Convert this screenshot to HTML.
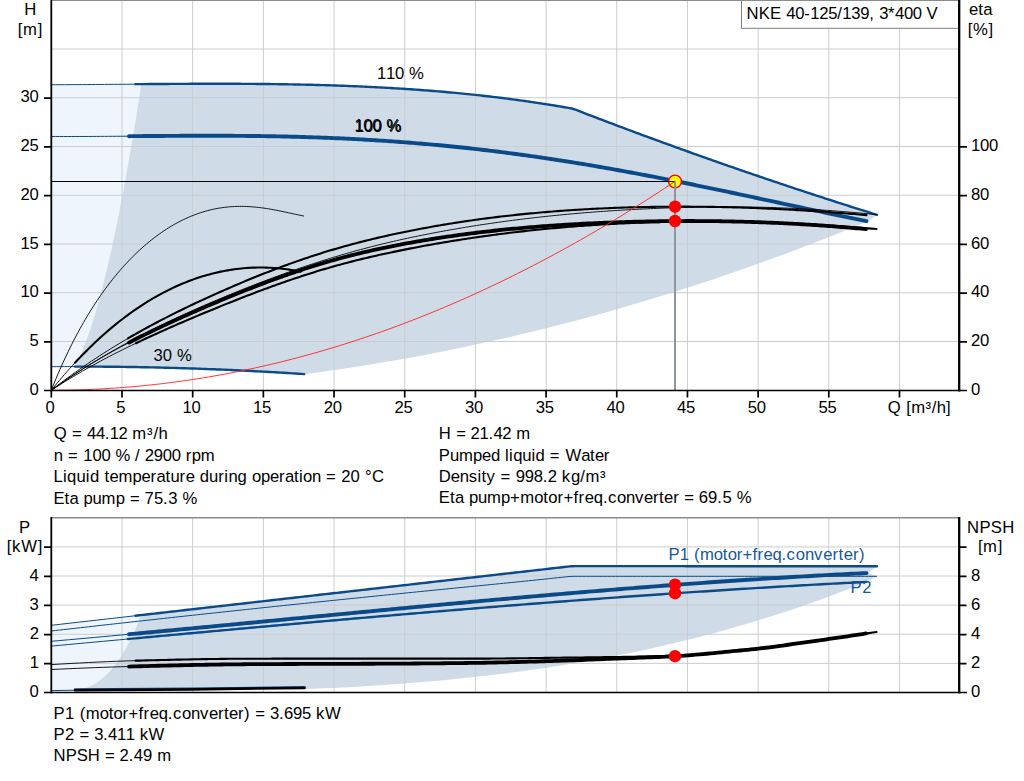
<!DOCTYPE html>
<html lang="en"><head><meta charset="utf-8"><title>NKE 40-125/139 pump curve</title>
<style>html,body{margin:0;padding:0;background:#fff}svg{display:block}text{white-space:pre;font-kerning:none;font-variant-ligatures:none}</style></head>
<body>
<svg width="1024" height="781" viewBox="0 0 1024 781">
<rect width="1024" height="781" fill="#fff"/>
<path d="M51.30 84.73 L54.40 84.72 L57.50 84.71 L60.60 84.70 L63.70 84.68 L66.80 84.67 L69.91 84.65 L73.01 84.63 L76.11 84.62 L79.21 84.60 L82.31 84.58 L85.41 84.56 L88.51 84.53 L91.61 84.51 L94.71 84.49 L97.81 84.47 L100.91 84.44 L104.02 84.42 L107.12 84.40 L110.22 84.37 L113.32 84.35 L116.42 84.32 L119.52 84.30 L122.62 84.27 L125.72 84.25 L128.82 84.22 L131.92 84.20 L135.03 84.17 L138.13 84.15 L141.23 84.12 L141.23 84.12 L140.49 88.91 L139.75 93.70 L139.01 98.49 L138.26 103.27 L137.50 108.06 L136.74 112.85 L135.97 117.64 L135.19 122.42 L134.41 127.21 L133.62 132.00 L132.82 136.79 L132.02 141.57 L131.21 146.36 L130.39 151.15 L129.56 155.94 L128.73 160.72 L127.88 165.51 L127.03 170.30 L126.17 175.09 L125.30 179.87 L124.42 184.66 L123.53 189.45 L122.63 194.24 L121.72 199.02 L120.80 203.81 L119.87 208.60 L118.92 213.39 L117.96 218.17 L116.99 222.96 L116.01 227.75 L115.01 232.54 L114.00 237.32 L112.97 242.11 L111.93 246.90 L110.87 251.69 L109.79 256.47 L108.69 261.26 L107.57 266.05 L106.44 270.84 L105.28 275.62 L104.09 280.41 L102.88 285.20 L101.65 289.99 L100.39 294.77 L99.09 299.56 L97.76 304.35 L96.40 309.14 L95.00 313.92 L93.55 318.71 L92.06 323.50 L90.51 328.29 L88.91 333.07 L87.24 337.86 L85.49 342.65 L83.66 347.44 L81.73 352.22 L79.67 357.01 L77.47 361.80 L75.08 366.58 L75.08 366.58 L72.44 366.59 L69.80 366.59 L67.15 366.60 L64.51 366.61 L61.87 366.62 L59.23 366.64 L56.58 366.65 L53.94 366.67 L51.30 366.69 Z" fill="#eef5fd"/>
<path d="M141.23 84.12 L144.92 84.10 L148.62 84.07 L152.32 84.04 L156.01 84.01 L159.71 83.99 L163.41 83.96 L167.11 83.94 L170.80 83.92 L174.50 83.90 L178.20 83.88 L181.89 83.86 L185.59 83.84 L189.29 83.82 L192.98 83.81 L196.68 83.80 L200.38 83.79 L204.07 83.78 L207.77 83.77 L211.47 83.77 L215.16 83.77 L218.86 83.77 L222.56 83.77 L226.25 83.78 L229.95 83.78 L233.65 83.79 L237.35 83.81 L241.04 83.82 L244.74 83.84 L248.44 83.87 L252.13 83.89 L255.83 83.92 L259.53 83.95 L263.22 83.99 L266.92 84.03 L270.62 84.07 L274.31 84.12 L278.01 84.17 L281.71 84.22 L285.40 84.28 L289.10 84.34 L292.80 84.41 L296.49 84.48 L300.19 84.55 L303.89 84.63 L307.59 84.72 L311.28 84.81 L314.98 84.90 L318.68 85.00 L322.37 85.10 L326.07 85.21 L329.77 85.32 L333.46 85.44 L337.16 85.57 L340.86 85.70 L344.55 85.83 L348.25 85.97 L351.95 86.12 L355.64 86.27 L359.34 86.43 L363.04 86.59 L366.73 86.76 L370.43 86.94 L374.13 87.12 L377.83 87.31 L381.52 87.51 L385.22 87.71 L388.92 87.92 L392.61 88.13 L396.31 88.35 L400.01 88.58 L403.70 88.82 L407.40 89.06 L411.10 89.31 L414.79 89.57 L418.49 89.83 L422.19 90.11 L425.88 90.39 L429.58 90.67 L433.28 90.97 L436.98 91.27 L440.67 91.58 L444.37 91.90 L448.07 92.23 L451.76 92.56 L455.46 92.91 L459.16 93.26 L462.85 93.62 L466.55 93.99 L470.25 94.37 L473.94 94.75 L477.64 95.15 L481.34 95.55 L485.03 95.97 L488.73 96.39 L492.43 96.82 L496.12 97.26 L499.82 97.71 L503.52 98.17 L507.22 98.64 L510.91 99.12 L514.61 99.61 L518.31 100.11 L522.00 100.62 L525.70 101.14 L529.40 101.67 L533.09 102.21 L536.79 102.76 L540.49 103.32 L544.18 103.89 L547.88 104.47 L551.58 105.06 L555.27 105.66 L558.97 106.28 L562.67 106.90 L566.36 107.54 L570.06 108.19 L573.76 109.04 L577.46 110.47 L581.15 111.89 L584.85 113.31 L588.55 114.73 L592.24 116.15 L595.94 117.56 L599.64 118.96 L603.33 120.37 L607.03 121.77 L610.73 123.16 L614.42 124.56 L618.12 125.95 L621.82 127.33 L625.51 128.72 L629.21 130.10 L632.91 131.47 L636.60 132.85 L640.30 134.22 L644.00 135.58 L647.70 136.94 L651.39 138.30 L655.09 139.66 L658.79 141.01 L662.48 142.36 L666.18 143.71 L669.88 145.05 L673.57 146.39 L677.27 147.73 L680.97 149.06 L684.66 150.39 L688.36 151.71 L692.06 153.04 L695.75 154.35 L699.45 155.67 L703.15 156.98 L706.84 158.29 L710.54 159.60 L714.24 160.90 L717.94 162.20 L721.63 163.49 L725.33 164.78 L729.03 166.07 L732.72 167.36 L736.42 168.64 L740.12 169.92 L743.81 171.19 L747.51 172.46 L751.21 173.73 L754.90 175.00 L758.60 176.26 L762.30 177.52 L765.99 178.77 L769.69 180.02 L773.39 181.27 L777.09 182.51 L780.78 183.76 L784.48 184.99 L788.18 186.23 L791.87 187.46 L795.57 188.69 L799.27 189.91 L802.96 191.13 L806.66 192.35 L810.36 193.56 L814.05 194.77 L817.75 195.98 L821.45 197.18 L825.14 198.38 L828.84 199.58 L832.54 200.77 L836.23 201.97 L839.93 203.15 L843.63 204.34 L847.33 205.52 L851.02 206.69 L854.72 207.87 L858.42 209.04 L862.11 210.20 L865.81 211.37 L869.51 212.53 L873.20 213.68 L876.90 214.84 L876.90 214.84 L867.30 221.60 L847.90 229.53 L828.49 237.26 L809.09 244.80 L789.69 252.16 L770.28 259.32 L750.88 266.29 L731.48 273.07 L712.07 279.66 L692.67 286.06 L673.27 292.27 L653.86 298.29 L634.46 304.12 L615.06 309.75 L595.65 315.20 L576.25 320.45 L556.84 325.52 L537.44 330.39 L518.04 335.08 L498.63 339.57 L479.23 343.87 L459.83 347.98 L440.42 351.90 L421.02 355.63 L401.62 359.17 L382.21 362.52 L362.81 365.67 L343.41 368.64 L324.00 371.42 L304.70 374.14 L304.70 374.14 L300.81 373.88 L296.92 373.63 L293.02 373.38 L289.13 373.14 L285.24 372.90 L281.35 372.66 L277.46 372.43 L273.57 372.21 L269.67 371.98 L265.78 371.77 L261.89 371.55 L258.00 371.35 L254.11 371.14 L250.21 370.94 L246.32 370.75 L242.43 370.56 L238.54 370.37 L234.65 370.19 L230.76 370.01 L226.86 369.84 L222.97 369.67 L219.08 369.51 L215.19 369.35 L211.30 369.19 L207.40 369.04 L203.51 368.90 L199.62 368.75 L195.73 368.62 L191.84 368.49 L187.95 368.36 L184.05 368.23 L180.16 368.11 L176.27 368.00 L172.38 367.89 L168.49 367.78 L164.59 367.68 L160.70 367.59 L156.81 367.49 L152.92 367.41 L149.03 367.32 L145.14 367.24 L141.24 367.17 L137.35 367.10 L133.46 367.03 L129.57 366.97 L125.68 366.92 L121.78 366.86 L117.89 366.82 L114.00 366.77 L110.11 366.73 L106.22 366.70 L102.32 366.67 L98.43 366.64 L94.54 366.62 L90.65 366.61 L86.76 366.59 L82.87 366.59 L78.97 366.58 L75.08 366.58 L75.08 366.58 L77.47 361.80 L79.67 357.01 L81.73 352.22 L83.66 347.44 L85.49 342.65 L87.24 337.86 L88.91 333.07 L90.51 328.29 L92.06 323.50 L93.55 318.71 L95.00 313.92 L96.40 309.14 L97.76 304.35 L99.09 299.56 L100.39 294.77 L101.65 289.99 L102.88 285.20 L104.09 280.41 L105.28 275.62 L106.44 270.84 L107.57 266.05 L108.69 261.26 L109.79 256.47 L110.87 251.69 L111.93 246.90 L112.97 242.11 L114.00 237.32 L115.01 232.54 L116.01 227.75 L116.99 222.96 L117.96 218.17 L118.92 213.39 L119.87 208.60 L120.80 203.81 L121.72 199.02 L122.63 194.24 L123.53 189.45 L124.42 184.66 L125.30 179.87 L126.17 175.09 L127.03 170.30 L127.88 165.51 L128.73 160.72 L129.56 155.94 L130.39 151.15 L131.21 146.36 L132.02 141.57 L132.82 136.79 L133.62 132.00 L134.41 127.21 L135.19 122.42 L135.97 117.64 L136.74 112.85 L137.50 108.06 L138.26 103.27 L139.01 98.49 L139.75 93.70 L140.49 88.91 L141.23 84.12 Z" fill="#cfdce8"/>
<path d="M122.00 0V390M192.68 0V390M263.36 0V390M334.04 0V390M404.72 0V390M475.40 0V390M546.08 0V390M616.76 0V390M687.44 0V390M758.12 0V390M828.80 0V390M899.48 0V390M51 341.50H958M51 292.75H958M51 244.00H958M51 195.25H958M51 146.50H958M51 97.75H958M51 49.00H958" stroke="#c9cdd1" stroke-width="1" fill="none"/>
<path d="M51 0.4H958" stroke="#8c8c8c" stroke-width="1.2"/>
<path d="M51.30 84.73 L55.73 84.72 L60.16 84.70 L64.59 84.68 L69.03 84.66 L73.46 84.63 L77.89 84.60 L82.32 84.58 L86.75 84.55 L91.18 84.52 L95.62 84.48 L100.05 84.45 L104.48 84.42 L108.91 84.38 L113.34 84.35 L117.77 84.31 L122.21 84.28 L126.64 84.24 L131.07 84.20 L135.50 84.17" fill="none" stroke="#0b4a88" stroke-width="1" stroke-linecap="butt" stroke-linejoin="round" />
<path d="M135.50 84.17 L137.98 84.15 L140.46 84.13 L142.94 84.11 L145.42 84.09 L147.90 84.07 L150.38 84.05 L152.86 84.04 L155.34 84.02 L157.82 84.00 L160.30 83.98 L162.78 83.97 L165.26 83.95 L167.73 83.94 L170.21 83.92 L172.69 83.91 L175.17 83.89 L177.65 83.88 L180.13 83.87 L182.61 83.85 L185.09 83.84 L187.57 83.83 L190.05 83.82 L192.53 83.81 L195.01 83.80 L197.49 83.80 L199.97 83.79 L202.45 83.78 L204.93 83.78 L207.41 83.77 L209.89 83.77 L212.37 83.77 L214.85 83.77 L217.33 83.77 L219.81 83.77 L222.29 83.77 L224.77 83.77 L227.25 83.78 L229.72 83.78 L232.20 83.79 L234.68 83.80 L237.16 83.81 L239.64 83.82 L242.12 83.83 L244.60 83.84 L247.08 83.86 L249.56 83.87 L252.04 83.89 L254.52 83.91 L257.00 83.93 L259.48 83.95 L261.96 83.97 L264.44 84.00 L266.92 84.03 L269.40 84.05 L271.88 84.08 L274.36 84.12 L276.84 84.15 L279.32 84.18 L281.80 84.22 L284.28 84.26 L286.76 84.30 L289.24 84.34 L291.71 84.39 L294.19 84.43 L296.67 84.48 L299.15 84.53 L301.63 84.58 L304.11 84.64 L306.59 84.69 L309.07 84.75 L311.55 84.81 L314.03 84.88 L316.51 84.94 L318.99 85.01 L321.47 85.08 L323.95 85.15 L326.43 85.22 L328.91 85.30 L331.39 85.38 L333.87 85.46 L336.35 85.54 L338.83 85.63 L341.31 85.71 L343.79 85.80 L346.27 85.90 L348.75 85.99 L351.23 86.09 L353.70 86.19 L356.18 86.29 L358.66 86.40 L361.14 86.51 L363.62 86.62 L366.10 86.73 L368.58 86.85 L371.06 86.97 L373.54 87.09 L376.02 87.22 L378.50 87.35 L380.98 87.48 L383.46 87.61 L385.94 87.75 L388.42 87.89 L390.90 88.03 L393.38 88.18 L395.86 88.33 L398.34 88.48 L400.82 88.63 L403.30 88.79 L405.78 88.95 L408.26 89.12 L410.74 89.29 L413.22 89.46 L415.69 89.63 L418.17 89.81 L420.65 89.99 L423.13 90.18 L425.61 90.36 L428.09 90.56 L430.57 90.75 L433.05 90.95 L435.53 91.15 L438.01 91.36 L440.49 91.57 L442.97 91.78 L445.45 92.00 L447.93 92.22 L450.41 92.44 L452.89 92.67 L455.37 92.90 L457.85 93.13 L460.33 93.37 L462.81 93.61 L465.29 93.86 L467.77 94.11 L470.25 94.37 L472.73 94.62 L475.21 94.89 L477.68 95.15 L480.16 95.42 L482.64 95.70 L485.12 95.98 L487.60 96.26 L490.08 96.54 L492.56 96.84 L495.04 97.13 L497.52 97.43 L500.00 97.73 L502.48 98.04 L504.96 98.35 L507.44 98.67 L509.92 98.99 L512.40 99.32 L514.88 99.65 L517.36 99.98 L519.84 100.32 L522.32 100.66 L524.80 101.01 L527.28 101.36 L529.76 101.72 L532.24 102.08 L534.72 102.45 L537.19 102.82 L539.67 103.19 L542.15 103.57 L544.63 103.96 L547.11 104.35 L549.59 104.74 L552.07 105.14 L554.55 105.54 L557.03 105.95 L559.51 106.37 L561.99 106.79 L564.47 107.21 L566.95 107.64 L569.43 108.07 L571.91 108.51 L574.39 109.29 L576.87 110.24 L579.35 111.20 L581.83 112.15 L584.31 113.11 L586.79 114.06 L589.27 115.01 L591.75 115.96 L594.23 116.90 L596.71 117.85 L599.18 118.79 L601.66 119.73 L604.14 120.67 L606.62 121.61 L609.10 122.55 L611.58 123.49 L614.06 124.42 L616.54 125.35 L619.02 126.28 L621.50 127.21 L623.98 128.14 L626.46 129.07 L628.94 130.00 L631.42 130.92 L633.90 131.84 L636.38 132.76 L638.86 133.68 L641.34 134.60 L643.82 135.51 L646.30 136.43 L648.78 137.34 L651.26 138.25 L653.74 139.16 L656.22 140.07 L658.70 140.98 L661.17 141.89 L663.65 142.79 L666.13 143.69 L668.61 144.59 L671.09 145.49 L673.57 146.39 L676.05 147.29 L678.53 148.18 L681.01 149.07 L683.49 149.97 L685.97 150.86 L688.45 151.75 L690.93 152.63 L693.41 153.52 L695.89 154.40 L698.37 155.28 L700.85 156.17 L703.33 157.05 L705.81 157.92 L708.29 158.80 L710.77 159.68 L713.25 160.55 L715.73 161.42 L718.21 162.29 L720.69 163.16 L723.16 164.03 L725.64 164.89 L728.12 165.76 L730.60 166.62 L733.08 167.48 L735.56 168.34 L738.04 169.20 L740.52 170.06 L743.00 170.91 L745.48 171.77 L747.96 172.62 L750.44 173.47 L752.92 174.32 L755.40 175.17 L757.88 176.01 L760.36 176.86 L762.84 177.70 L765.32 178.54 L767.80 179.38 L770.28 180.22 L772.76 181.06 L775.24 181.89 L777.72 182.73 L780.20 183.56 L782.68 184.39 L785.15 185.22 L787.63 186.05 L790.11 186.87 L792.59 187.70 L795.07 188.52 L797.55 189.34 L800.03 190.16 L802.51 190.98 L804.99 191.80 L807.47 192.61 L809.95 193.43 L812.43 194.24 L814.91 195.05 L817.39 195.86 L819.87 196.67 L822.35 197.48 L824.83 198.28 L827.31 199.09 L829.79 199.89 L832.27 200.69 L834.75 201.49 L837.23 202.28 L839.71 203.08 L842.19 203.87 L844.67 204.67 L847.14 205.46 L849.62 206.25 L852.10 207.04 L854.58 207.82 L857.06 208.61 L859.54 209.39 L862.02 210.17 L864.50 210.95 L866.98 211.73 L869.46 212.51 L871.94 213.29 L874.42 214.06 L876.90 214.84" fill="none" stroke="#0b4a88" stroke-width="2.4" stroke-linecap="round" stroke-linejoin="round" />
<path d="M51.30 136.46 L55.39 136.48 L59.48 136.49 L63.57 136.49 L67.66 136.50 L71.75 136.50 L75.84 136.49 L79.93 136.48 L84.02 136.47 L88.11 136.46 L92.19 136.44 L96.28 136.42 L100.37 136.39 L104.46 136.37 L108.55 136.34 L112.64 136.31 L116.73 136.29 L120.82 136.25 L124.91 136.22 L129.00 136.19" fill="none" stroke="#0b4a88" stroke-width="1" stroke-linecap="butt" stroke-linejoin="round" />
<path d="M129.00 136.19 L131.47 136.17 L133.93 136.15 L136.40 136.13 L138.87 136.11 L141.33 136.09 L143.80 136.07 L146.27 136.05 L148.73 136.03 L151.20 136.02 L153.67 136.00 L156.13 135.98 L158.60 135.96 L161.07 135.94 L163.53 135.93 L166.00 135.91 L168.46 135.89 L170.93 135.88 L173.40 135.86 L175.86 135.85 L178.33 135.84 L180.80 135.82 L183.26 135.81 L185.73 135.80 L188.20 135.79 L190.66 135.78 L193.13 135.78 L195.60 135.77 L198.06 135.76 L200.53 135.76 L203.00 135.75 L205.46 135.75 L207.93 135.75 L210.40 135.75 L212.86 135.75 L215.33 135.75 L217.80 135.76 L220.26 135.76 L222.73 135.77 L225.20 135.78 L227.66 135.79 L230.13 135.80 L232.60 135.81 L235.06 135.83 L237.53 135.84 L239.99 135.86 L242.46 135.88 L244.93 135.90 L247.39 135.93 L249.86 135.95 L252.33 135.98 L254.79 136.01 L257.26 136.04 L259.73 136.07 L262.19 136.11 L264.66 136.14 L267.13 136.18 L269.59 136.22 L272.06 136.27 L274.53 136.31 L276.99 136.36 L279.46 136.41 L281.93 136.46 L284.39 136.51 L286.86 136.57 L289.33 136.63 L291.79 136.69 L294.26 136.75 L296.73 136.81 L299.19 136.88 L301.66 136.95 L304.13 137.02 L306.59 137.10 L309.06 137.18 L311.53 137.26 L313.99 137.34 L316.46 137.42 L318.92 137.51 L321.39 137.60 L323.86 137.69 L326.32 137.79 L328.79 137.89 L331.26 137.99 L333.72 138.09 L336.19 138.20 L338.66 138.31 L341.12 138.42 L343.59 138.53 L346.06 138.65 L348.52 138.77 L350.99 138.89 L353.46 139.02 L355.92 139.15 L358.39 139.28 L360.86 139.41 L363.32 139.55 L365.79 139.69 L368.26 139.83 L370.72 139.98 L373.19 140.12 L375.66 140.28 L378.12 140.43 L380.59 140.59 L383.06 140.75 L385.52 140.91 L387.99 141.08 L390.45 141.25 L392.92 141.42 L395.39 141.60 L397.85 141.78 L400.32 141.96 L402.79 142.14 L405.25 142.33 L407.72 142.52 L410.19 142.71 L412.65 142.91 L415.12 143.11 L417.59 143.32 L420.05 143.52 L422.52 143.73 L424.99 143.94 L427.45 144.16 L429.92 144.38 L432.39 144.60 L434.85 144.83 L437.32 145.06 L439.79 145.29 L442.25 145.52 L444.72 145.76 L447.19 146.00 L449.65 146.25 L452.12 146.49 L454.59 146.74 L457.05 147.00 L459.52 147.25 L461.98 147.51 L464.45 147.78 L466.92 148.04 L469.38 148.31 L471.85 148.59 L474.32 148.86 L476.78 149.14 L479.25 149.42 L481.72 149.71 L484.18 150.00 L486.65 150.29 L489.12 150.59 L491.58 150.88 L494.05 151.18 L496.52 151.49 L498.98 151.80 L501.45 152.11 L503.92 152.42 L506.38 152.74 L508.85 153.06 L511.32 153.38 L513.78 153.71 L516.25 154.04 L518.72 154.37 L521.18 154.70 L523.65 155.04 L526.12 155.38 L528.58 155.73 L531.05 156.07 L533.52 156.42 L535.98 156.78 L538.45 157.13 L540.91 157.49 L543.38 157.86 L545.85 158.22 L548.31 158.59 L550.78 158.96 L553.25 159.33 L555.71 159.71 L558.18 160.09 L560.65 160.47 L563.11 160.86 L565.58 161.24 L568.05 161.64 L570.51 162.03 L572.98 162.43 L575.45 162.83 L577.91 163.23 L580.38 163.63 L582.85 164.04 L585.31 164.45 L587.78 164.86 L590.25 165.28 L592.71 165.70 L595.18 166.12 L597.65 166.54 L600.11 166.96 L602.58 167.39 L605.05 167.82 L607.51 168.26 L609.98 168.69 L612.44 169.13 L614.91 169.57 L617.38 170.01 L619.84 170.46 L622.31 170.91 L624.78 171.36 L627.24 171.81 L629.71 172.26 L632.18 172.72 L634.64 173.18 L637.11 173.64 L639.58 174.10 L642.04 174.57 L644.51 175.04 L646.98 175.51 L649.44 175.98 L651.91 176.45 L654.38 176.93 L656.84 177.41 L659.31 177.88 L661.78 178.37 L664.24 178.85 L666.71 179.33 L669.18 179.82 L671.64 180.31 L674.11 180.80 L676.58 181.29 L679.04 181.79 L681.51 182.28 L683.97 182.78 L686.44 183.28 L688.91 183.78 L691.37 184.28 L693.84 184.78 L696.31 185.29 L698.77 185.79 L701.24 186.30 L703.71 186.81 L706.17 187.32 L708.64 187.83 L711.11 188.35 L713.57 188.86 L716.04 189.37 L718.51 189.89 L720.97 190.41 L723.44 190.92 L725.91 191.44 L728.37 191.96 L730.84 192.48 L733.31 193.01 L735.77 193.53 L738.24 194.05 L740.71 194.57 L743.17 195.10 L745.64 195.62 L748.11 196.15 L750.57 196.68 L753.04 197.20 L755.51 197.73 L757.97 198.26 L760.44 198.79 L762.90 199.31 L765.37 199.84 L767.84 200.37 L770.30 200.90 L772.77 201.43 L775.24 201.96 L777.70 202.49 L780.17 203.02 L782.64 203.55 L785.10 204.08 L787.57 204.61 L790.04 205.13 L792.50 205.66 L794.97 206.19 L797.44 206.72 L799.90 207.25 L802.37 207.77 L804.84 208.30 L807.30 208.83 L809.77 209.35 L812.24 209.87 L814.70 210.40 L817.17 210.92 L819.64 211.44 L822.10 211.96 L824.57 212.49 L827.04 213.00 L829.50 213.52 L831.97 214.04 L834.43 214.56 L836.90 215.07 L839.37 215.58 L841.83 216.10 L844.30 216.61 L846.77 217.12 L849.23 217.62 L851.70 218.13 L854.17 218.63 L856.63 219.14 L859.10 219.64 L861.57 220.14 L864.03 220.63 L866.50 221.13" fill="none" stroke="#0b4a88" stroke-width="3.9" stroke-linecap="round" stroke-linejoin="round" />
<path d="M51.30 366.69 L53.93 366.67 L56.57 366.65 L59.20 366.64 L61.83 366.62 L64.47 366.61 L67.10 366.60 L69.73 366.59 L72.37 366.59 L75.00 366.58" fill="none" stroke="#0b4a88" stroke-width="1" stroke-linecap="butt" stroke-linejoin="round" />
<path d="M75.00 366.58 L77.90 366.58 L80.80 366.58 L83.70 366.59 L86.61 366.59 L89.51 366.60 L92.41 366.61 L95.31 366.63 L98.21 366.64 L101.11 366.66 L104.01 366.68 L106.91 366.70 L109.82 366.73 L112.72 366.76 L115.62 366.79 L118.52 366.82 L121.42 366.86 L124.32 366.90 L127.22 366.94 L130.12 366.98 L133.03 367.03 L135.93 367.07 L138.83 367.12 L141.73 367.18 L144.63 367.23 L147.53 367.29 L150.43 367.35 L153.33 367.41 L156.24 367.48 L159.14 367.55 L162.04 367.62 L164.94 367.69 L167.84 367.77 L170.74 367.84 L173.64 367.92 L176.54 368.01 L179.45 368.09 L182.35 368.18 L185.25 368.27 L188.15 368.36 L191.05 368.46 L193.95 368.56 L196.85 368.66 L199.75 368.76 L202.66 368.86 L205.56 368.97 L208.46 369.08 L211.36 369.20 L214.26 369.31 L217.16 369.43 L220.06 369.55 L222.96 369.67 L225.87 369.80 L228.77 369.92 L231.67 370.05 L234.57 370.19 L237.47 370.32 L240.37 370.46 L243.27 370.60 L246.17 370.74 L249.08 370.88 L251.98 371.03 L254.88 371.18 L257.78 371.33 L260.68 371.49 L263.58 371.65 L266.48 371.81 L269.38 371.97 L272.29 372.13 L275.19 372.30 L278.09 372.47 L280.99 372.64 L283.89 372.82 L286.79 372.99 L289.69 373.17 L292.59 373.35 L295.50 373.54 L298.40 373.73 L301.30 373.92 L304.20 374.11" fill="none" stroke="#0b4a88" stroke-width="2.4" stroke-linecap="round" stroke-linejoin="round" />
<path d="M51.30 390.27 L53.00 386.03 L54.69 381.88 L56.39 377.80 L58.08 373.81 L59.78 369.90 L61.48 366.06 L63.17 362.30 L64.87 358.62 L66.56 355.00 L68.26 351.46 L69.96 347.98 L71.65 344.57 L73.35 341.23 L75.04 337.95 L76.74 334.74 L78.44 331.58 L80.13 328.49 L81.83 325.46 L83.52 322.48 L85.22 319.56 L86.92 316.70 L88.61 313.89 L90.31 311.13 L92.00 308.42 L93.70 305.77 L95.40 303.16 L97.09 300.61 L98.79 298.10 L100.48 295.64 L102.18 293.22 L103.88 290.85 L105.57 288.53 L107.27 286.24 L108.96 284.00 L110.66 281.80 L112.36 279.65 L114.05 277.53 L115.75 275.45 L117.44 273.41 L119.14 271.41 L120.83 269.45 L122.53 267.53 L124.23 265.64 L125.92 263.79 L127.62 261.97 L129.31 260.19 L131.01 258.44 L132.71 256.73 L134.40 255.05 L136.10 253.41 L137.79 251.79 L139.49 250.21 L141.19 248.66 L142.88 247.15 L144.58 245.66 L146.27 244.21 L147.97 242.78 L149.67 241.39 L151.36 240.03 L153.06 238.69 L154.75 237.39 L156.45 236.11 L158.15 234.87 L159.84 233.65 L161.54 232.47 L163.23 231.31 L164.93 230.18 L166.63 229.07 L168.32 228.00 L170.02 226.95 L171.71 225.93 L173.41 224.94 L175.11 223.98 L176.80 223.04 L178.50 222.13 L180.19 221.25 L181.89 220.39 L183.59 219.56 L185.28 218.76 L186.98 217.99 L188.67 217.24 L190.37 216.51 L192.07 215.82 L193.76 215.15 L195.46 214.50 L197.15 213.88 L198.85 213.29 L200.55 212.72 L202.24 212.18 L203.94 211.66 L205.63 211.17 L207.33 210.70 L209.03 210.26 L210.72 209.84 L212.42 209.45 L214.11 209.08 L215.81 208.74 L217.51 208.42 L219.20 208.13 L220.90 207.86 L222.59 207.61 L224.29 207.38 L225.99 207.18 L227.68 207.01 L229.38 206.85 L231.07 206.72 L232.77 206.61 L234.47 206.52 L236.16 206.45 L237.86 206.41 L239.55 206.39 L241.25 206.38 L242.94 206.40 L244.64 206.44 L246.34 206.50 L248.03 206.57 L249.73 206.67 L251.42 206.78 L253.12 206.91 L254.82 207.06 L256.51 207.23 L258.21 207.41 L259.90 207.61 L261.60 207.83 L263.30 208.06 L264.99 208.30 L266.69 208.56 L268.38 208.83 L270.08 209.11 L271.78 209.41 L273.47 209.71 L275.17 210.03 L276.86 210.35 L278.56 210.69 L280.26 211.03 L281.95 211.38 L283.65 211.73 L285.34 212.09 L287.04 212.45 L288.74 212.82 L290.43 213.19 L292.13 213.56 L293.82 213.93 L295.52 214.29 L297.22 214.66 L298.91 215.02 L300.61 215.38 L302.30 215.73 L304.00 216.08" fill="none" stroke="#000" stroke-width="0.9" stroke-linecap="butt" stroke-linejoin="round" />
<path d="M51.30 390.30 L53.93 387.04 L56.57 383.82 L59.20 380.66 L61.83 377.55 L64.47 374.49 L67.10 371.48 L69.73 368.52 L72.37 365.61 L75.00 362.74" fill="none" stroke="#000" stroke-width="0.9" stroke-linecap="butt" stroke-linejoin="round" />
<path d="M75.00 362.74 L77.28 360.30 L79.56 357.90 L81.83 355.53 L84.11 353.20 L86.39 350.90 L88.67 348.63 L90.94 346.41 L93.22 344.21 L95.50 342.05 L97.78 339.93 L100.06 337.84 L102.33 335.78 L104.61 333.75 L106.89 331.76 L109.17 329.81 L111.44 327.88 L113.72 325.99 L116.00 324.13 L118.28 322.30 L120.56 320.51 L122.83 318.75 L125.11 317.02 L127.39 315.32 L129.67 313.66 L131.94 312.02 L134.22 310.42 L136.50 308.85 L138.78 307.31 L141.06 305.80 L143.33 304.32 L145.61 302.88 L147.89 301.46 L150.17 300.07 L152.44 298.72 L154.72 297.39 L157.00 296.10 L159.28 294.83 L161.56 293.60 L163.83 292.39 L166.11 291.22 L168.39 290.07 L170.67 288.95 L172.94 287.87 L175.22 286.81 L177.50 285.78 L179.78 284.78 L182.06 283.81 L184.33 282.87 L186.61 281.95 L188.89 281.07 L191.17 280.21 L193.44 279.38 L195.72 278.59 L198.00 277.82 L200.28 277.07 L202.56 276.36 L204.83 275.67 L207.11 275.02 L209.39 274.39 L211.67 273.78 L213.94 273.21 L216.22 272.66 L218.50 272.14 L220.78 271.65 L223.06 271.19 L225.33 270.76 L227.61 270.35 L229.89 269.97 L232.17 269.61 L234.44 269.29 L236.72 268.99 L239.00 268.72 L241.28 268.48 L243.56 268.26 L245.83 268.07 L248.11 267.91 L250.39 267.78 L252.67 267.67 L254.94 267.59 L257.22 267.54 L259.50 267.51 L261.78 267.52 L264.06 267.54 L266.33 267.60 L268.61 267.68 L270.89 267.79 L273.17 267.93 L275.44 268.10 L277.72 268.29 L280.00 268.51 L282.28 268.75 L284.56 269.03 L286.83 269.33 L289.11 269.66 L291.39 270.01 L293.67 270.40 L295.94 270.81 L298.22 271.24 L300.50 271.71" fill="none" stroke="#000" stroke-width="2.1" stroke-linecap="round" stroke-linejoin="round" />
<path d="M51.30 390.30 L54.06 388.33 L56.82 386.38 L59.58 384.45 L62.35 382.55 L65.11 380.66 L67.87 378.79 L70.63 376.94 L73.39 375.10 L76.15 373.29 L78.92 371.49 L81.68 369.72 L84.44 367.95 L87.20 366.21 L89.96 364.49 L92.72 362.78 L95.48 361.09 L98.25 359.41 L101.01 357.75 L103.77 356.11 L106.53 354.48 L109.29 352.87 L112.05 351.28 L114.82 349.70 L117.58 348.13 L120.34 346.58 L123.10 345.05 L125.86 343.52 L128.62 342.02 L131.38 340.52 L134.15 339.05 L136.91 337.58 L139.67 336.13 L142.43 334.69 L145.19 333.26 L147.95 331.85 L150.72 330.45 L153.48 329.06 L156.24 327.68 L159.00 326.32 L161.76 324.97 L164.52 323.62 L167.28 322.29 L170.05 320.97 L172.81 319.66 L175.57 318.37 L178.33 317.08 L181.09 315.80 L183.85 314.53 L186.62 313.27 L189.38 312.02 L192.14 310.78 L194.90 309.55 L197.66 308.33 L200.42 307.11 L203.18 305.91 L205.95 304.71 L208.71 303.52 L211.47 302.34 L214.23 301.16 L216.99 300.00 L219.75 298.84 L222.52 297.68 L225.28 296.54 L228.04 295.40 L230.80 294.26 L233.56 293.13 L236.32 292.01 L239.08 290.90 L241.85 289.79 L244.61 288.69 L247.37 287.60 L250.13 286.51 L252.89 285.43 L255.65 284.35 L258.42 283.29 L261.18 282.23 L263.94 281.18 L266.70 280.13 L269.46 279.10 L272.22 278.07 L274.98 277.05 L277.75 276.03 L280.51 275.03 L283.27 274.03 L286.03 273.04 L288.79 272.05 L291.55 271.08 L294.32 270.11 L297.08 269.16 L299.84 268.21 L302.60 267.26 L305.36 266.33 L308.12 265.41 L310.88 264.49 L313.65 263.58 L316.41 262.68 L319.17 261.79 L321.93 260.91 L324.69 260.04 L327.45 259.18 L330.22 258.32 L332.98 257.48 L335.74 256.64 L338.50 255.82 L341.26 255.00 L344.02 254.19 L346.78 253.39 L349.55 252.60 L352.31 251.82 L355.07 251.06 L357.83 250.30 L360.59 249.55 L363.35 248.81 L366.12 248.08 L368.88 247.36 L371.64 246.65 L374.40 245.95 L377.16 245.25 L379.92 244.57 L382.68 243.90 L385.45 243.24 L388.21 242.58 L390.97 241.93 L393.73 241.30 L396.49 240.67 L399.25 240.04 L402.02 239.43 L404.78 238.83 L407.54 238.23 L410.30 237.64 L413.06 237.06 L415.82 236.48 L418.58 235.91 L421.35 235.35 L424.11 234.80 L426.87 234.26 L429.63 233.72 L432.39 233.18 L435.15 232.66 L437.92 232.14 L440.68 231.63 L443.44 231.12 L446.20 230.62 L448.96 230.12 L451.72 229.63 L454.48 229.15 L457.25 228.68 L460.01 228.21 L462.77 227.74 L465.53 227.28 L468.29 226.83 L471.05 226.38 L473.82 225.94 L476.58 225.51 L479.34 225.08 L482.10 224.66 L484.86 224.24 L487.62 223.83 L490.38 223.42 L493.15 223.02 L495.91 222.63 L498.67 222.24 L501.43 221.85 L504.19 221.48 L506.95 221.10 L509.72 220.74 L512.48 220.38 L515.24 220.02 L518.00 219.67 L520.76 219.32 L523.52 218.99 L526.28 218.65 L529.05 218.32 L531.81 218.00 L534.57 217.68 L537.33 217.37 L540.09 217.06 L542.85 216.75 L545.62 216.46 L548.38 216.16 L551.14 215.88 L553.90 215.59 L556.66 215.32 L559.42 215.04 L562.18 214.78 L564.95 214.51 L567.71 214.26 L570.47 214.00 L573.23 213.75 L575.99 213.51 L578.75 213.27 L581.52 213.04 L584.28 212.81 L587.04 212.58 L589.80 212.37 L592.56 212.15 L595.32 211.94 L598.08 211.73 L600.85 211.53 L603.61 211.34 L606.37 211.14 L609.13 210.95 L611.89 210.77 L614.65 210.59 L617.42 210.42 L620.18 210.25 L622.94 210.08 L625.70 209.92 L628.46 209.76 L631.22 209.61 L633.98 209.46 L636.75 209.31 L639.51 209.17 L642.27 209.04 L645.03 208.90 L647.79 208.78 L650.55 208.65 L653.32 208.53 L656.08 208.41 L658.84 208.30 L661.60 208.19 L664.36 208.09 L667.12 207.99 L669.88 207.89 L672.65 207.80 L675.41 207.71 L678.17 207.62 L680.93 207.54 L683.69 207.46 L686.45 207.38 L689.22 207.31 L691.98 207.25 L694.74 207.18 L697.50 207.12 L700.26 207.07 L703.02 207.01 L705.78 206.97 L708.55 206.93 L711.31 206.89 L714.07 206.87 L716.83 206.84 L719.59 206.82 L722.35 206.81 L725.12 206.81 L727.88 206.81 L730.64 206.81 L733.40 206.82 L736.16 206.84 L738.92 206.86 L741.68 206.88 L744.45 206.92 L747.21 206.95 L749.97 207.00 L752.73 207.05 L755.49 207.10 L758.25 207.16 L761.02 207.22 L763.78 207.29 L766.54 207.37 L769.30 207.45 L772.06 207.54 L774.82 207.63 L777.58 207.73 L780.35 207.83 L783.11 207.94 L785.87 208.05 L788.63 208.17 L791.39 208.29 L794.15 208.42 L796.92 208.56 L799.68 208.69 L802.44 208.84 L805.20 208.99 L807.96 209.14 L810.72 209.30 L813.48 209.47 L816.25 209.64 L819.01 209.82 L821.77 210.00 L824.53 210.18 L827.29 210.37 L830.05 210.57 L832.82 210.77 L835.58 210.98 L838.34 211.19 L841.10 211.41 L843.86 211.63 L846.62 211.85 L849.38 212.09 L852.15 212.32 L854.91 212.56 L857.67 212.81 L860.43 213.06 L863.19 213.32 L865.95 213.58 L868.72 213.84 L871.48 214.12 L874.24 214.39 L877.00 214.67" fill="none" stroke="#000" stroke-width="0.9" stroke-linecap="butt" stroke-linejoin="round" />
<path d="M51.30 390.30 L55.76 387.40 L60.22 384.57 L64.67 381.78 L69.13 379.05 L73.59 376.37 L78.05 373.73 L82.51 371.14 L86.96 368.60 L91.42 366.10 L95.88 363.65 L100.34 361.23 L104.79 358.85 L109.25 356.51 L113.71 354.21 L118.17 351.94 L122.63 349.71 L127.08 347.50 L131.54 345.33 L136.00 343.19" fill="none" stroke="#000" stroke-width="0.9" stroke-linecap="butt" stroke-linejoin="round" />
<path d="M136.00 343.19 L138.48 342.01 L140.95 340.84 L143.43 339.67 L145.91 338.52 L148.38 337.37 L150.86 336.22 L153.34 335.09 L155.81 333.96 L158.29 332.84 L160.77 331.72 L163.24 330.61 L165.72 329.51 L168.20 328.41 L170.67 327.31 L173.15 326.23 L175.63 325.14 L178.10 324.06 L180.58 322.99 L183.06 321.92 L185.53 320.86 L188.01 319.80 L190.48 318.74 L192.96 317.69 L195.44 316.65 L197.91 315.61 L200.39 314.57 L202.87 313.54 L205.34 312.51 L207.82 311.48 L210.30 310.46 L212.77 309.44 L215.25 308.42 L217.73 307.41 L220.20 306.40 L222.68 305.40 L225.16 304.40 L227.63 303.40 L230.11 302.41 L232.59 301.42 L235.06 300.44 L237.54 299.46 L240.02 298.49 L242.49 297.52 L244.97 296.56 L247.45 295.60 L249.92 294.65 L252.40 293.70 L254.88 292.76 L257.35 291.82 L259.83 290.89 L262.31 289.97 L264.78 289.05 L267.26 288.14 L269.74 287.23 L272.21 286.33 L274.69 285.44 L277.17 284.55 L279.64 283.67 L282.12 282.80 L284.60 281.93 L287.07 281.07 L289.55 280.22 L292.03 279.38 L294.50 278.54 L296.98 277.71 L299.45 276.89 L301.93 276.08 L304.41 275.27 L306.88 274.47 L309.36 273.68 L311.84 272.90 L314.31 272.13 L316.79 271.36 L319.27 270.61 L321.74 269.86 L324.22 269.12 L326.70 268.39 L329.17 267.67 L331.65 266.96 L334.13 266.26 L336.60 265.57 L339.08 264.89 L341.56 264.21 L344.03 263.55 L346.51 262.89 L348.99 262.24 L351.46 261.61 L353.94 260.98 L356.42 260.35 L358.89 259.74 L361.37 259.13 L363.85 258.53 L366.32 257.94 L368.80 257.36 L371.28 256.78 L373.75 256.21 L376.23 255.65 L378.71 255.09 L381.18 254.54 L383.66 254.00 L386.14 253.46 L388.61 252.93 L391.09 252.41 L393.57 251.89 L396.04 251.37 L398.52 250.87 L400.99 250.36 L403.47 249.86 L405.95 249.37 L408.42 248.88 L410.90 248.40 L413.38 247.92 L415.85 247.44 L418.33 246.98 L420.81 246.51 L423.28 246.05 L425.76 245.59 L428.24 245.14 L430.71 244.70 L433.19 244.26 L435.67 243.82 L438.14 243.39 L440.62 242.96 L443.10 242.54 L445.57 242.12 L448.05 241.70 L450.53 241.29 L453.00 240.89 L455.48 240.49 L457.96 240.09 L460.43 239.70 L462.91 239.32 L465.39 238.93 L467.86 238.56 L470.34 238.18 L472.82 237.82 L475.29 237.45 L477.77 237.09 L480.25 236.74 L482.72 236.39 L485.20 236.04 L487.68 235.70 L490.15 235.36 L492.63 235.03 L495.11 234.70 L497.58 234.37 L500.06 234.05 L502.54 233.74 L505.01 233.43 L507.49 233.12 L509.96 232.82 L512.44 232.52 L514.92 232.22 L517.39 231.93 L519.87 231.65 L522.35 231.37 L524.82 231.09 L527.30 230.82 L529.78 230.55 L532.25 230.28 L534.73 230.02 L537.21 229.77 L539.68 229.51 L542.16 229.27 L544.64 229.02 L547.11 228.78 L549.59 228.55 L552.07 228.32 L554.54 228.09 L557.02 227.87 L559.50 227.65 L561.97 227.43 L564.45 227.22 L566.93 227.01 L569.40 226.81 L571.88 226.61 L574.36 226.42 L576.83 226.22 L579.31 226.04 L581.79 225.85 L584.26 225.68 L586.74 225.50 L589.22 225.33 L591.69 225.16 L594.17 225.00 L596.65 224.84 L599.12 224.68 L601.60 224.53 L604.08 224.38 L606.55 224.24 L609.03 224.10 L611.51 223.96 L613.98 223.83 L616.46 223.70 L618.93 223.57 L621.41 223.45 L623.89 223.34 L626.36 223.22 L628.84 223.11 L631.32 223.01 L633.79 222.90 L636.27 222.80 L638.75 222.71 L641.22 222.62 L643.70 222.53 L646.18 222.45 L648.65 222.36 L651.13 222.29 L653.61 222.21 L656.08 222.14 L658.56 222.08 L661.04 222.02 L663.51 221.96 L665.99 221.90 L668.47 221.85 L670.94 221.80 L673.42 221.76 L675.90 221.72 L678.37 221.68 L680.85 221.64 L683.33 221.61 L685.80 221.59 L688.28 221.56 L690.76 221.54 L693.23 221.52 L695.71 221.51 L698.19 221.50 L700.66 221.49 L703.14 221.49 L705.62 221.49 L708.09 221.49 L710.57 221.50 L713.05 221.51 L715.52 221.53 L718.00 221.54 L720.47 221.56 L722.95 221.59 L725.43 221.61 L727.90 221.64 L730.38 221.68 L732.86 221.71 L735.33 221.75 L737.81 221.80 L740.29 221.84 L742.76 221.89 L745.24 221.94 L747.72 222.00 L750.19 222.06 L752.67 222.12 L755.15 222.19 L757.62 222.25 L760.10 222.33 L762.58 222.40 L765.05 222.48 L767.53 222.56 L770.01 222.64 L772.48 222.73 L774.96 222.82 L777.44 222.91 L779.91 223.01 L782.39 223.11 L784.87 223.21 L787.34 223.32 L789.82 223.42 L792.30 223.53 L794.77 223.65 L797.25 223.77 L799.73 223.89 L802.20 224.01 L804.68 224.13 L807.16 224.26 L809.63 224.39 L812.11 224.53 L814.59 224.67 L817.06 224.81 L819.54 224.95 L822.02 225.10 L824.49 225.24 L826.97 225.40 L829.44 225.55 L831.92 225.71 L834.40 225.87 L836.87 226.03 L839.35 226.19 L841.83 226.36 L844.30 226.53 L846.78 226.71 L849.26 226.88 L851.73 227.06 L854.21 227.24 L856.69 227.43 L859.16 227.61 L861.64 227.80 L864.12 228.00 L866.59 228.19 L869.07 228.39 L871.55 228.59 L874.02 228.79 L876.50 229.00" fill="none" stroke="#000" stroke-width="2.1" stroke-linecap="round" stroke-linejoin="round" />
<path d="M51.30 390.30 L55.34 387.15 L59.37 384.06 L63.41 381.01 L67.45 378.02 L71.48 375.07 L75.52 372.17 L79.56 369.32 L83.59 366.51 L87.63 363.75 L91.67 361.03 L95.71 358.35 L99.74 355.71 L103.78 353.12 L107.82 350.56 L111.85 348.05 L115.89 345.57 L119.93 343.13 L123.96 340.73 L128.00 338.36" fill="none" stroke="#000" stroke-width="0.9" stroke-linecap="butt" stroke-linejoin="round" />
<path d="M128.00 338.36 L130.47 336.93 L132.94 335.51 L135.41 334.10 L137.88 332.71 L140.35 331.33 L142.82 329.95 L145.29 328.60 L147.76 327.25 L150.23 325.91 L152.70 324.59 L155.17 323.28 L157.64 321.97 L160.11 320.68 L162.58 319.40 L165.05 318.13 L167.52 316.86 L169.99 315.61 L172.46 314.37 L174.93 313.13 L177.40 311.91 L179.87 310.69 L182.34 309.49 L184.81 308.29 L187.28 307.10 L189.75 305.91 L192.22 304.74 L194.69 303.57 L197.16 302.41 L199.63 301.26 L202.10 300.11 L204.57 298.97 L207.04 297.84 L209.51 296.71 L211.98 295.59 L214.45 294.48 L216.92 293.37 L219.39 292.27 L221.86 291.17 L224.33 290.09 L226.80 289.00 L229.27 287.93 L231.74 286.86 L234.21 285.80 L236.68 284.74 L239.15 283.69 L241.62 282.65 L244.09 281.62 L246.56 280.59 L249.03 279.57 L251.49 278.56 L253.96 277.55 L256.43 276.55 L258.90 275.56 L261.37 274.58 L263.84 273.60 L266.31 272.63 L268.78 271.67 L271.25 270.72 L273.72 269.77 L276.19 268.83 L278.66 267.91 L281.13 266.98 L283.60 266.07 L286.07 265.17 L288.54 264.27 L291.01 263.38 L293.48 262.50 L295.95 261.63 L298.42 260.77 L300.89 259.91 L303.36 259.07 L305.83 258.23 L308.30 257.40 L310.77 256.58 L313.24 255.77 L315.71 254.97 L318.18 254.18 L320.65 253.39 L323.12 252.62 L325.59 251.86 L328.06 251.10 L330.53 250.35 L333.00 249.62 L335.47 248.89 L337.94 248.17 L340.41 247.47 L342.88 246.77 L345.35 246.08 L347.82 245.40 L350.29 244.73 L352.76 244.07 L355.23 243.41 L357.70 242.77 L360.17 242.13 L362.64 241.50 L365.11 240.88 L367.58 240.27 L370.05 239.66 L372.52 239.07 L374.99 238.48 L377.46 237.89 L379.93 237.32 L382.40 236.75 L384.87 236.19 L387.34 235.64 L389.81 235.09 L392.28 234.56 L394.75 234.02 L397.22 233.50 L399.69 232.98 L402.16 232.46 L404.63 231.96 L407.10 231.45 L409.57 230.96 L412.04 230.47 L414.51 229.99 L416.98 229.51 L419.45 229.04 L421.92 228.57 L424.39 228.11 L426.86 227.66 L429.33 227.21 L431.80 226.76 L434.27 226.33 L436.74 225.89 L439.21 225.47 L441.68 225.05 L444.15 224.63 L446.62 224.22 L449.09 223.82 L451.56 223.42 L454.03 223.03 L456.50 222.64 L458.97 222.26 L461.44 221.88 L463.91 221.51 L466.38 221.15 L468.85 220.79 L471.32 220.43 L473.79 220.08 L476.26 219.74 L478.73 219.40 L481.20 219.06 L483.67 218.73 L486.14 218.41 L488.61 218.09 L491.08 217.78 L493.55 217.47 L496.02 217.16 L498.48 216.86 L500.95 216.57 L503.42 216.28 L505.89 216.00 L508.36 215.72 L510.83 215.44 L513.30 215.17 L515.77 214.91 L518.24 214.65 L520.71 214.39 L523.18 214.14 L525.65 213.89 L528.12 213.65 L530.59 213.42 L533.06 213.18 L535.53 212.96 L538.00 212.73 L540.47 212.51 L542.94 212.30 L545.41 212.09 L547.88 211.88 L550.35 211.68 L552.82 211.49 L555.29 211.30 L557.76 211.11 L560.23 210.92 L562.70 210.74 L565.17 210.57 L567.64 210.40 L570.11 210.23 L572.58 210.07 L575.05 209.91 L577.52 209.76 L579.99 209.61 L582.46 209.46 L584.93 209.32 L587.40 209.18 L589.87 209.04 L592.34 208.91 L594.81 208.79 L597.28 208.66 L599.75 208.55 L602.22 208.43 L604.69 208.32 L607.16 208.21 L609.63 208.11 L612.10 208.01 L614.57 207.91 L617.04 207.82 L619.51 207.73 L621.98 207.65 L624.45 207.56 L626.92 207.49 L629.39 207.41 L631.86 207.34 L634.33 207.27 L636.80 207.21 L639.27 207.15 L641.74 207.09 L644.21 207.04 L646.68 206.99 L649.15 206.94 L651.62 206.90 L654.09 206.86 L656.56 206.82 L659.03 206.79 L661.50 206.76 L663.97 206.74 L666.44 206.71 L668.91 206.69 L671.38 206.68 L673.85 206.67 L676.32 206.66 L678.79 206.65 L681.26 206.65 L683.73 206.65 L686.20 206.66 L688.67 206.66 L691.14 206.68 L693.61 206.69 L696.08 206.71 L698.55 206.73 L701.02 206.75 L703.49 206.78 L705.96 206.81 L708.43 206.84 L710.90 206.88 L713.37 206.92 L715.84 206.96 L718.31 207.01 L720.78 207.06 L723.25 207.11 L725.72 207.17 L728.19 207.23 L730.66 207.29 L733.13 207.35 L735.60 207.42 L738.07 207.49 L740.54 207.57 L743.01 207.64 L745.47 207.72 L747.94 207.81 L750.41 207.89 L752.88 207.98 L755.35 208.07 L757.82 208.17 L760.29 208.27 L762.76 208.37 L765.23 208.47 L767.70 208.58 L770.17 208.69 L772.64 208.80 L775.11 208.92 L777.58 209.03 L780.05 209.16 L782.52 209.28 L784.99 209.41 L787.46 209.54 L789.93 209.67 L792.40 209.80 L794.87 209.94 L797.34 210.08 L799.81 210.23 L802.28 210.37 L804.75 210.52 L807.22 210.67 L809.69 210.83 L812.16 210.98 L814.63 211.14 L817.10 211.31 L819.57 211.47 L822.04 211.64 L824.51 211.81 L826.98 211.98 L829.45 212.16 L831.92 212.34 L834.39 212.52 L836.86 212.70 L839.33 212.89 L841.80 213.07 L844.27 213.27 L846.74 213.46 L849.21 213.66 L851.68 213.85 L854.15 214.05 L856.62 214.26 L859.09 214.46 L861.56 214.67 L864.03 214.88 L866.50 215.10" fill="none" stroke="#000" stroke-width="2.1" stroke-linecap="round" stroke-linejoin="round" />
<path d="M51.30 390.29 L55.39 387.34 L59.48 384.45 L63.57 381.61 L67.66 378.82 L71.75 376.09 L75.84 373.41 L79.93 370.78 L84.02 368.20 L88.11 365.66 L92.19 363.17 L96.28 360.73 L100.37 358.33 L104.46 355.97 L108.55 353.65 L112.64 351.37 L116.73 349.12 L120.82 346.91 L124.91 344.74 L129.00 342.59" fill="none" stroke="#000" stroke-width="0.9" stroke-linecap="butt" stroke-linejoin="round" />
<path d="M129.00 342.59 L131.46 341.32 L133.93 340.05 L136.39 338.80 L138.86 337.55 L141.32 336.32 L143.79 335.09 L146.25 333.88 L148.72 332.67 L151.18 331.47 L153.65 330.29 L156.11 329.10 L158.58 327.93 L161.04 326.77 L163.51 325.61 L165.97 324.46 L168.44 323.31 L170.90 322.17 L173.37 321.04 L175.83 319.92 L178.30 318.80 L180.76 317.69 L183.23 316.58 L185.69 315.48 L188.16 314.39 L190.62 313.30 L193.09 312.21 L195.55 311.14 L198.02 310.06 L200.48 308.99 L202.95 307.93 L205.41 306.87 L207.88 305.82 L210.34 304.77 L212.81 303.72 L215.27 302.68 L217.74 301.64 L220.20 300.61 L222.67 299.58 L225.13 298.56 L227.60 297.54 L230.06 296.53 L232.53 295.52 L234.99 294.51 L237.45 293.52 L239.92 292.52 L242.38 291.54 L244.85 290.56 L247.31 289.58 L249.78 288.61 L252.24 287.65 L254.71 286.69 L257.17 285.74 L259.64 284.80 L262.10 283.86 L264.57 282.93 L267.03 282.01 L269.50 281.09 L271.96 280.18 L274.43 279.28 L276.89 278.38 L279.36 277.49 L281.82 276.61 L284.29 275.74 L286.75 274.87 L289.22 274.02 L291.68 273.17 L294.15 272.33 L296.61 271.49 L299.08 270.67 L301.54 269.85 L304.01 269.04 L306.47 268.24 L308.94 267.45 L311.40 266.67 L313.87 265.90 L316.33 265.14 L318.80 264.38 L321.26 263.64 L323.73 262.90 L326.19 262.18 L328.66 261.46 L331.12 260.76 L333.59 260.06 L336.05 259.37 L338.52 258.70 L340.98 258.03 L343.44 257.38 L345.91 256.73 L348.37 256.09 L350.84 255.46 L353.30 254.84 L355.77 254.23 L358.23 253.63 L360.70 253.04 L363.16 252.46 L365.63 251.88 L368.09 251.31 L370.56 250.75 L373.02 250.20 L375.49 249.66 L377.95 249.12 L380.42 248.60 L382.88 248.07 L385.35 247.56 L387.81 247.05 L390.28 246.55 L392.74 246.06 L395.21 245.58 L397.67 245.10 L400.14 244.62 L402.60 244.16 L405.07 243.69 L407.53 243.24 L410.00 242.79 L412.46 242.35 L414.93 241.91 L417.39 241.48 L419.86 241.05 L422.32 240.63 L424.79 240.22 L427.25 239.81 L429.72 239.40 L432.18 239.00 L434.65 238.61 L437.11 238.23 L439.58 237.84 L442.04 237.47 L444.51 237.10 L446.97 236.73 L449.43 236.37 L451.90 236.02 L454.36 235.67 L456.83 235.32 L459.29 234.98 L461.76 234.65 L464.22 234.32 L466.69 234.00 L469.15 233.68 L471.62 233.36 L474.08 233.05 L476.55 232.75 L479.01 232.45 L481.48 232.16 L483.94 231.87 L486.41 231.58 L488.87 231.30 L491.34 231.02 L493.80 230.75 L496.27 230.49 L498.73 230.23 L501.20 229.97 L503.66 229.72 L506.13 229.47 L508.59 229.22 L511.06 228.98 L513.52 228.75 L515.99 228.52 L518.45 228.29 L520.92 228.07 L523.38 227.85 L525.85 227.64 L528.31 227.43 L530.78 227.22 L533.24 227.02 L535.71 226.82 L538.17 226.63 L540.64 226.44 L543.10 226.25 L545.57 226.07 L548.03 225.89 L550.49 225.71 L552.96 225.54 L555.42 225.38 L557.89 225.21 L560.35 225.05 L562.82 224.90 L565.28 224.74 L567.75 224.59 L570.21 224.45 L572.68 224.31 L575.14 224.17 L577.61 224.03 L580.07 223.90 L582.54 223.77 L585.00 223.65 L587.47 223.52 L589.93 223.40 L592.40 223.29 L594.86 223.17 L597.33 223.07 L599.79 222.96 L602.26 222.85 L604.72 222.75 L607.19 222.66 L609.65 222.56 L612.12 222.47 L614.58 222.38 L617.05 222.29 L619.51 222.21 L621.98 222.13 L624.44 222.05 L626.91 221.98 L629.37 221.90 L631.84 221.83 L634.30 221.77 L636.77 221.70 L639.23 221.64 L641.70 221.58 L644.16 221.53 L646.63 221.47 L649.09 221.42 L651.56 221.38 L654.02 221.33 L656.48 221.29 L658.95 221.25 L661.41 221.22 L663.88 221.18 L666.34 221.15 L668.81 221.13 L671.27 221.10 L673.74 221.08 L676.20 221.06 L678.67 221.05 L681.13 221.04 L683.60 221.03 L686.06 221.02 L688.53 221.02 L690.99 221.02 L693.46 221.02 L695.92 221.03 L698.39 221.04 L700.85 221.05 L703.32 221.06 L705.78 221.08 L708.25 221.10 L710.71 221.13 L713.18 221.15 L715.64 221.18 L718.11 221.22 L720.57 221.25 L723.04 221.29 L725.50 221.34 L727.97 221.38 L730.43 221.43 L732.90 221.48 L735.36 221.54 L737.83 221.60 L740.29 221.66 L742.76 221.72 L745.22 221.79 L747.69 221.86 L750.15 221.93 L752.62 222.01 L755.08 222.09 L757.55 222.18 L760.01 222.26 L762.47 222.35 L764.94 222.45 L767.40 222.54 L769.87 222.64 L772.33 222.75 L774.80 222.85 L777.26 222.96 L779.73 223.07 L782.19 223.19 L784.66 223.31 L787.12 223.43 L789.59 223.56 L792.05 223.69 L794.52 223.82 L796.98 223.96 L799.45 224.10 L801.91 224.24 L804.38 224.39 L806.84 224.54 L809.31 224.69 L811.77 224.85 L814.24 225.01 L816.70 225.17 L819.17 225.34 L821.63 225.51 L824.10 225.68 L826.56 225.86 L829.03 226.04 L831.49 226.22 L833.96 226.41 L836.42 226.60 L838.89 226.79 L841.35 226.99 L843.82 227.19 L846.28 227.40 L848.75 227.60 L851.21 227.82 L853.68 228.03 L856.14 228.25 L858.61 228.47 L861.07 228.70 L863.54 228.93 L866.00 229.16" fill="none" stroke="#000" stroke-width="3.8" stroke-linecap="round" stroke-linejoin="round" />
<circle cx="675" cy="181.5" r="6.4" fill="#ffff00" stroke="#ff0000" stroke-width="1.4"/>
<path d="M51.32 390.25 L56.56 390.24 L61.80 390.19 L67.04 390.12 L72.28 390.01 L77.53 389.88 L82.77 389.72 L88.01 389.53 L93.25 389.31 L98.49 389.06 L103.73 388.78 L108.97 388.47 L114.21 388.13 L119.45 387.76 L124.69 387.36 L129.94 386.93 L135.18 386.47 L140.42 385.99 L145.66 385.47 L150.90 384.93 L156.14 384.35 L161.38 383.75 L166.62 383.11 L171.86 382.45 L177.10 381.76 L182.35 381.03 L187.59 380.28 L192.83 379.50 L198.07 378.69 L203.31 377.85 L208.55 376.98 L213.79 376.08 L219.03 375.15 L224.27 374.19 L229.51 373.20 L234.76 372.18 L240.00 371.14 L245.24 370.06 L250.48 368.95 L255.72 367.82 L260.96 366.65 L266.20 365.46 L271.44 364.23 L276.68 362.98 L281.92 361.70 L287.17 360.39 L292.41 359.04 L297.65 357.67 L302.89 356.27 L308.13 354.84 L313.37 353.38 L318.61 351.89 L323.85 350.37 L329.09 348.82 L334.33 347.25 L339.58 345.64 L344.82 344.00 L350.06 342.33 L355.30 340.64 L360.54 338.91 L365.78 337.16 L371.02 335.37 L376.26 333.56 L381.50 331.72 L386.74 329.84 L391.99 327.94 L397.23 326.01 L402.47 324.05 L407.71 322.06 L412.95 320.04 L418.19 317.99 L423.43 315.91 L428.67 313.80 L433.91 311.66 L439.15 309.49 L444.40 307.29 L449.64 305.07 L454.88 302.81 L460.12 300.52 L465.36 298.21 L470.60 295.86 L475.84 293.49 L481.08 291.09 L486.32 288.65 L491.56 286.19 L496.81 283.70 L502.05 281.17 L507.29 278.62 L512.53 276.04 L517.77 273.43 L523.01 270.79 L528.25 268.12 L533.49 265.42 L538.73 262.70 L543.98 259.94 L549.22 257.15 L554.46 254.33 L559.70 251.49 L564.94 248.61 L570.18 245.71 L575.42 242.77 L580.66 239.81 L585.90 236.81 L591.14 233.79 L596.39 230.74 L601.63 227.65 L606.87 224.54 L612.11 221.40 L617.35 218.23 L622.59 215.03 L627.83 211.80 L633.07 208.54 L638.31 205.25 L643.55 201.93 L648.80 198.59 L654.04 195.21 L659.28 191.80 L664.52 188.37 L669.76 184.90 L675.00 181.40" fill="none" stroke="#ff2020" stroke-width="0.9" stroke-linecap="butt" stroke-linejoin="round" />
<path d="M51 181.5H675" stroke="#000" stroke-width="1"/>
<path d="M675 181.5V390" stroke="#8e979f" stroke-width="2"/>
<circle cx="675" cy="206.7" r="6.2" fill="#ff0000"/>
<circle cx="675" cy="221" r="6.2" fill="#ff0000"/>
<rect x="741.5" y="-2" width="217" height="30.3" fill="#fff" stroke="#7f7f7f" stroke-width="1"/>
<path d="M741 0.4H958" stroke="#8c8c8c" stroke-width="1.2"/>
<path d="M51.3 0V391.4" stroke="#000" stroke-width="1.8"/>
<path d="M959.2 0V391.4" stroke="#000" stroke-width="2.3"/>
<path d="M44 390.55H967" stroke="#000" stroke-width="1.5"/>
<path d="M44 341.90H51M44 293.15H51M44 244.40H51M44 195.65H51M44 146.90H51M44 98.15H51M959 341.90H967M959 293.15H967M959 244.40H967M959 195.65H967M959 146.90H967M51.32 390V397.6M122.00 390V397.6M192.68 390V397.6M263.36 390V397.6M334.04 390V397.6M404.72 390V397.6M475.40 390V397.6M546.08 390V397.6M616.76 390V397.6M687.44 390V397.6M758.12 390V397.6M828.80 390V397.6M899.48 390V397.6" stroke="#000" stroke-width="1.7" fill="none"/>
<text x="746.4 758.7 769.9 781.1 786.2 795.2 804.2 810.2 819.2 828.2 837.3 842.3 851.3 860.3 869.3 874.3 879.3 888.1 895.0 903.9 912.8 921.6 926.5" y="19.2" font-family="Liberation Sans, Arial, Helvetica, sans-serif" font-size="16.67" fill="#000">NKE 40-125/139, 3*400 V</text>
<text x="24.2" y="14.6" font-family="Liberation Sans, Arial, Helvetica, sans-serif" font-size="16.67" fill="#000">H</text>
<text x="17.8 23.0 37.7" y="34.7" font-family="Liberation Sans, Arial, Helvetica, sans-serif" font-size="16.67" fill="#000">[m]</text>
<text x="969.1 978.2 983.3" y="14.7" font-family="Liberation Sans, Arial, Helvetica, sans-serif" font-size="16.67" fill="#000">eta</text>
<text x="967.8 973.0 988.6" y="34.8" font-family="Liberation Sans, Arial, Helvetica, sans-serif" font-size="16.67" fill="#000">[%]</text>
<text x="29.4" y="394.9" font-family="Liberation Sans, Arial, Helvetica, sans-serif" font-size="16.67" fill="#000">0</text>
<text x="29.5" y="346.1" font-family="Liberation Sans, Arial, Helvetica, sans-serif" font-size="16.67" fill="#000">5</text>
<text x="20.4 29.4" y="297.4" font-family="Liberation Sans, Arial, Helvetica, sans-serif" font-size="16.67" fill="#000">10</text>
<text x="20.5 29.5" y="248.6" font-family="Liberation Sans, Arial, Helvetica, sans-serif" font-size="16.67" fill="#000">15</text>
<text x="20.4 29.4" y="199.8" font-family="Liberation Sans, Arial, Helvetica, sans-serif" font-size="16.67" fill="#000">20</text>
<text x="20.5 29.5" y="151.1" font-family="Liberation Sans, Arial, Helvetica, sans-serif" font-size="16.67" fill="#000">25</text>
<text x="20.4 29.4" y="102.3" font-family="Liberation Sans, Arial, Helvetica, sans-serif" font-size="16.67" fill="#000">30</text>
<text x="970.9" y="394.9" font-family="Liberation Sans, Arial, Helvetica, sans-serif" font-size="16.67" fill="#000">0</text>
<text x="970.9 979.9" y="346.1" font-family="Liberation Sans, Arial, Helvetica, sans-serif" font-size="16.67" fill="#000">20</text>
<text x="970.9 979.9" y="297.4" font-family="Liberation Sans, Arial, Helvetica, sans-serif" font-size="16.67" fill="#000">40</text>
<text x="970.9 979.9" y="248.6" font-family="Liberation Sans, Arial, Helvetica, sans-serif" font-size="16.67" fill="#000">60</text>
<text x="970.9 979.9" y="199.8" font-family="Liberation Sans, Arial, Helvetica, sans-serif" font-size="16.67" fill="#000">80</text>
<text x="970.9 979.9 988.9" y="151.1" font-family="Liberation Sans, Arial, Helvetica, sans-serif" font-size="16.67" fill="#000">100</text>
<text x="45.5" y="412.7" font-family="Liberation Sans, Arial, Helvetica, sans-serif" font-size="16.67" fill="#000">0</text>
<text x="116.2" y="412.7" font-family="Liberation Sans, Arial, Helvetica, sans-serif" font-size="16.67" fill="#000">5</text>
<text x="182.4 191.4" y="412.7" font-family="Liberation Sans, Arial, Helvetica, sans-serif" font-size="16.67" fill="#000">10</text>
<text x="253.1 262.1" y="412.7" font-family="Liberation Sans, Arial, Helvetica, sans-serif" font-size="16.67" fill="#000">15</text>
<text x="323.7 332.7" y="412.7" font-family="Liberation Sans, Arial, Helvetica, sans-serif" font-size="16.67" fill="#000">20</text>
<text x="394.4 403.4" y="412.7" font-family="Liberation Sans, Arial, Helvetica, sans-serif" font-size="16.67" fill="#000">25</text>
<text x="465.1 474.1" y="412.7" font-family="Liberation Sans, Arial, Helvetica, sans-serif" font-size="16.67" fill="#000">30</text>
<text x="535.8 544.8" y="412.7" font-family="Liberation Sans, Arial, Helvetica, sans-serif" font-size="16.67" fill="#000">35</text>
<text x="606.5 615.5" y="412.7" font-family="Liberation Sans, Arial, Helvetica, sans-serif" font-size="16.67" fill="#000">40</text>
<text x="677.1 686.1" y="412.7" font-family="Liberation Sans, Arial, Helvetica, sans-serif" font-size="16.67" fill="#000">45</text>
<text x="747.8 756.8" y="412.7" font-family="Liberation Sans, Arial, Helvetica, sans-serif" font-size="16.67" fill="#000">50</text>
<text x="818.5 827.5" y="412.7" font-family="Liberation Sans, Arial, Helvetica, sans-serif" font-size="16.67" fill="#000">55</text>
<text x="887.8 901.1 906.2 911.3 925.6 931.7 936.8 946.0" y="413.2" font-family="Liberation Sans, Arial, Helvetica, sans-serif" font-size="16.67" fill="#000">Q [m³/h]</text>
<text x="377.0 386.0 395.0 403.9 408.9" y="78.9" font-family="Liberation Sans, Arial, Helvetica, sans-serif" font-size="16.67" fill="#000">110 %</text>
<text x="354.2 363.2 372.2 381.2 386.2" y="131.1" font-family="Liberation Sans, Arial, Helvetica, sans-serif" font-size="16.67" fill="#000">100 %</text>
<text x="355.0 364.0 373.0 382.0 387.0" y="132.0" font-family="Liberation Sans, Arial, Helvetica, sans-serif" font-size="16.67" fill="#000">100 %</text>
<text x="153.6 162.7 171.8 176.9" y="361.3" font-family="Liberation Sans, Arial, Helvetica, sans-serif" font-size="16.67" fill="#000">30 %</text>
<text x="53.8 66.9 72.0 82.1 87.1 96.0 104.8 109.7 118.5 127.4 132.3 147.0 153.4 158.6" y="438.9" font-family="Liberation Sans, Arial, Helvetica, sans-serif" font-size="16.67" fill="#000">Q = 44.12 m³/h</text>
<text x="53.7 62.8 67.9 78.1 83.2 92.4 101.5 110.6 115.6 130.2 135.1 139.9 144.7 153.7 162.7 171.7 180.8 185.8 191.8 200.8" y="460.6" font-family="Liberation Sans, Arial, Helvetica, sans-serif" font-size="16.67" fill="#000">n = 100 % / 2900 rpm</text>
<text x="53.5 62.9 67.0 76.4 85.7 89.9 99.3 104.4 109.5 118.5 132.5 141.5 150.6 156.6 165.6 170.6 179.6 185.7 194.7 199.7 208.9 218.2 224.3 228.4 237.6 246.9 252.0 261.0 270.0 279.0 285.0 294.0 299.0 303.0 312.1 321.1 326.1 336.1 341.2 350.5 359.8 365.0 372.0" y="482.1" font-family="Liberation Sans, Arial, Helvetica, sans-serif" font-size="16.67" fill="#000">Liquid temperature during operation = 20 °C</text>
<text x="53.6 64.5 69.5 78.5 83.4 92.5 101.6 115.8 124.9 130.0 139.7 144.6 153.9 163.1 168.2 177.5 182.6" y="503.6" font-family="Liberation Sans, Arial, Helvetica, sans-serif" font-size="16.67" fill="#000">Eta pump = 75.3 %</text>
<text x="438.8 451.1 456.2 465.8 470.6 479.5 488.4 493.4 502.3 511.2 516.2" y="438.8" font-family="Liberation Sans, Arial, Helvetica, sans-serif" font-size="16.67" fill="#000">H = 21.42 m</text>
<text x="438.8 449.9 458.9 473.0 482.0 491.0 500.1 505.1 509.1 513.2 522.3 531.4 535.5 544.6 549.7 560.3 565.6 581.2 590.0 594.9 603.7" y="460.6" font-family="Liberation Sans, Arial, Helvetica, sans-serif" font-size="16.67" fill="#000">Pumped liquid = Water</text>
<text x="438.8 450.8 459.7 468.7 477.6 481.6 486.5 495.5 500.5 510.6 515.7 524.7 533.7 542.7 547.7 556.7 561.7 571.0 580.3 585.5 599.9" y="481.9" font-family="Liberation Sans, Arial, Helvetica, sans-serif" font-size="16.67" fill="#000">Density = 998.2 kg/m³</text>
<text x="438.8 449.9 454.9 463.9 468.9 478.0 487.0 501.1 510.1 520.2 534.2 543.3 548.3 557.4 563.4 573.4 578.5 584.7 593.8 603.0 608.1 617.1 626.1 635.1 644.1 653.1 659.1 664.1 673.2 679.2 684.2 693.9 698.8 708.0 717.2 722.4 731.6 736.7" y="503.4" font-family="Liberation Sans, Arial, Helvetica, sans-serif" font-size="16.67" fill="#000">Eta pump+motor+freq.converter = 69.5 %</text>
<path d="M51.30 625.30 L56.03 624.76 L60.75 624.23 L65.48 623.69 L70.20 623.15 L74.93 622.61 L79.65 622.08 L84.38 621.54 L89.11 621.00 L93.83 620.47 L98.56 619.93 L103.28 619.39 L108.01 618.86 L112.73 618.32 L117.46 617.78 L122.18 617.24 L126.91 616.71 L131.64 616.17 L136.36 615.63 L141.09 615.10 L141.09 615.10 L139.95 618.00 L138.81 620.83 L137.68 623.59 L136.54 626.28 L135.40 628.89 L134.26 631.44 L133.13 633.91 L131.99 636.32 L130.85 638.67 L129.72 640.94 L128.58 643.15 L127.44 645.30 L126.31 647.38 L125.17 649.40 L124.03 651.36 L122.89 653.26 L121.76 655.10 L120.62 656.89 L119.48 658.61 L118.35 660.28 L117.21 661.89 L116.07 663.45 L114.93 664.95 L113.80 666.40 L112.66 667.80 L111.52 669.15 L110.39 670.45 L109.25 671.70 L108.11 672.90 L106.98 674.05 L105.84 675.16 L104.70 676.22 L103.56 677.24 L102.43 678.22 L101.29 679.15 L100.15 680.04 L99.02 680.89 L97.88 681.70 L96.74 682.47 L95.60 683.21 L94.47 683.90 L93.33 684.57 L92.19 685.19 L91.06 685.79 L89.92 686.35 L88.78 686.87 L87.64 687.37 L86.51 687.84 L85.37 688.28 L84.23 688.68 L83.10 689.07 L81.96 689.42 L80.82 689.75 L79.69 690.06 L78.55 690.34 L77.41 690.60 L76.27 690.84 L75.14 691.05 L74.00 691.25 L51.30 692.00 Z" fill="#eef5fd"/>
<path d="M141.09 615.10 L148.52 614.25 L155.96 613.41 L163.39 612.56 L170.83 611.72 L178.26 610.87 L185.70 610.03 L193.14 609.18 L200.57 608.34 L208.01 607.49 L215.44 606.65 L222.88 605.80 L230.31 604.96 L237.75 604.11 L245.18 603.27 L252.62 602.42 L260.06 601.58 L267.49 600.73 L274.93 599.89 L282.36 599.04 L289.80 598.19 L297.23 597.35 L304.67 596.50 L312.10 595.66 L319.54 594.81 L326.97 593.97 L334.41 593.12 L341.85 592.28 L349.28 591.43 L356.72 590.59 L364.15 589.74 L371.59 588.90 L379.02 588.05 L386.46 587.21 L393.89 586.36 L401.33 585.52 L408.76 584.67 L416.20 583.83 L423.64 582.98 L431.07 582.14 L438.51 581.29 L445.94 580.45 L453.38 579.60 L460.81 578.76 L468.25 577.91 L475.68 577.07 L483.12 576.22 L490.55 575.38 L497.99 574.53 L505.43 573.69 L512.86 572.84 L520.30 572.00 L527.73 571.15 L535.17 570.31 L542.60 569.46 L550.04 568.62 L557.47 567.77 L564.91 566.93 L572.35 566.10 L579.78 566.10 L587.22 566.11 L594.65 566.11 L602.09 566.12 L609.52 566.12 L616.96 566.13 L624.39 566.13 L631.83 566.14 L639.26 566.14 L646.70 566.15 L654.14 566.15 L661.57 566.16 L669.01 566.16 L676.44 566.17 L683.88 566.17 L691.31 566.18 L698.75 566.18 L706.18 566.19 L713.62 566.19 L721.05 566.20 L728.49 566.20 L735.93 566.21 L743.36 566.21 L750.80 566.22 L758.23 566.22 L765.67 566.23 L773.10 566.23 L780.54 566.24 L787.97 566.24 L795.41 566.25 L802.85 566.25 L810.28 566.26 L817.72 566.26 L825.15 566.27 L832.59 566.27 L840.02 566.28 L847.46 566.28 L854.89 566.29 L862.33 566.29 L869.76 566.30 L877.20 566.30 L868.00 573.02 L877.00 576.30 L867.30 581.60 L857.76 585.44 L848.23 589.20 L838.69 592.86 L829.16 596.44 L819.62 599.93 L810.09 603.33 L800.55 606.65 L791.02 609.89 L781.48 613.04 L771.94 616.11 L762.41 619.11 L752.87 622.02 L743.34 624.85 L733.80 627.61 L724.27 630.29 L714.73 632.90 L705.19 635.43 L695.66 637.89 L686.12 640.28 L676.59 642.60 L667.05 644.85 L657.52 647.03 L647.98 649.14 L638.45 651.19 L628.91 653.17 L619.37 655.08 L609.84 656.94 L600.30 658.73 L590.77 660.46 L581.23 662.13 L571.70 663.74 L562.16 665.29 L552.63 666.78 L543.09 668.22 L533.55 669.61 L524.02 670.94 L514.48 672.22 L504.95 673.45 L495.41 674.62 L485.88 675.75 L476.34 676.83 L466.81 677.86 L457.27 678.84 L447.73 679.78 L438.20 680.68 L428.66 681.53 L419.13 682.34 L409.59 683.11 L400.06 683.84 L390.52 684.53 L380.98 685.19 L371.45 685.80 L361.91 686.38 L352.38 686.93 L342.84 687.44 L333.31 687.92 L323.77 688.37 L314.24 688.79 L304.70 689.18 L304.70 688.60 L190.00 690.00 L74.00 691.00 L74.00 691.25 L75.14 691.05 L76.27 690.84 L77.41 690.60 L78.55 690.34 L79.69 690.06 L80.82 689.75 L81.96 689.42 L83.10 689.07 L84.23 688.68 L85.37 688.28 L86.51 687.84 L87.64 687.37 L88.78 686.87 L89.92 686.35 L91.06 685.79 L92.19 685.19 L93.33 684.57 L94.47 683.90 L95.60 683.21 L96.74 682.47 L97.88 681.70 L99.02 680.89 L100.15 680.04 L101.29 679.15 L102.43 678.22 L103.56 677.24 L104.70 676.22 L105.84 675.16 L106.98 674.05 L108.11 672.90 L109.25 671.70 L110.39 670.45 L111.52 669.15 L112.66 667.80 L113.80 666.40 L114.93 664.95 L116.07 663.45 L117.21 661.89 L118.35 660.28 L119.48 658.61 L120.62 656.89 L121.76 655.10 L122.89 653.26 L124.03 651.36 L125.17 649.40 L126.31 647.38 L127.44 645.30 L128.58 643.15 L129.72 640.94 L130.85 638.67 L131.99 636.32 L133.13 633.91 L134.26 631.44 L135.40 628.89 L136.54 626.28 L137.68 623.59 L138.81 620.83 L139.95 618.00 L141.09 615.10 Z" fill="#cfdce8"/>
<path d="M122.00 518V692M192.68 518V692M263.36 518V692M334.04 518V692M404.72 518V692M475.40 518V692M546.08 518V692M616.76 518V692M687.44 518V692M758.12 518V692M828.80 518V692M899.48 518V692M51 663.38H958M51 634.26H958M51 605.14H958M51 576.02H958M51 546.90H958" stroke="#c9cdd1" stroke-width="1" fill="none"/>
<path d="M51 517.7H959" stroke="#8c8c8c" stroke-width="1.4"/>
<path d="M51.30 625.30 L60.66 624.24 L70.01 623.17 L79.37 622.11 L88.72 621.05 L98.08 619.98 L107.43 618.92 L116.79 617.86 L126.14 616.79 L135.50 615.73" fill="none" stroke="#0b4a88" stroke-width="1" stroke-linecap="butt" stroke-linejoin="round" />
<path d="M135.50 615.73 L139.23 615.31 L142.95 614.88 L146.68 614.46 L150.40 614.04 L154.13 613.61 L157.86 613.19 L161.58 612.77 L165.31 612.34 L169.04 611.92 L172.76 611.50 L176.49 611.07 L180.21 610.65 L183.94 610.23 L187.67 609.80 L191.39 609.38 L195.12 608.96 L198.84 608.53 L202.57 608.11 L206.30 607.68 L210.02 607.26 L213.75 606.84 L217.47 606.41 L221.20 605.99 L224.93 605.57 L228.65 605.14 L232.38 604.72 L236.11 604.30 L239.83 603.87 L243.56 603.45 L247.28 603.03 L251.01 602.60 L254.74 602.18 L258.46 601.76 L262.19 601.33 L265.91 600.91 L269.64 600.49 L273.37 600.06 L277.09 599.64 L280.82 599.22 L284.55 598.79 L288.27 598.37 L292.00 597.94 L295.72 597.52 L299.45 597.10 L303.18 596.67 L306.90 596.25 L310.63 595.83 L314.35 595.40 L318.08 594.98 L321.81 594.56 L325.53 594.13 L329.26 593.71 L332.98 593.29 L336.71 592.86 L340.44 592.44 L344.16 592.02 L347.89 591.59 L351.62 591.17 L355.34 590.75 L359.07 590.32 L362.79 589.90 L366.52 589.48 L370.25 589.05 L373.97 588.63 L377.70 588.20 L381.42 587.78 L385.15 587.36 L388.88 586.93 L392.60 586.51 L396.33 586.09 L400.06 585.66 L403.78 585.24 L407.51 584.82 L411.23 584.39 L414.96 583.97 L418.69 583.55 L422.41 583.12 L426.14 582.70 L429.86 582.28 L433.59 581.85 L437.32 581.43 L441.04 581.01 L444.77 580.58 L448.49 580.16 L452.22 579.74 L455.95 579.31 L459.67 578.89 L463.40 578.47 L467.13 578.04 L470.85 577.62 L474.58 577.19 L478.30 576.77 L482.03 576.35 L485.76 575.92 L489.48 575.50 L493.21 575.08 L496.93 574.65 L500.66 574.23 L504.39 573.81 L508.11 573.38 L511.84 572.96 L515.57 572.54 L519.29 572.11 L523.02 571.69 L526.74 571.27 L530.47 570.84 L534.20 570.42 L537.92 570.00 L541.65 569.57 L545.37 569.15 L549.10 568.73 L552.83 568.30 L556.55 567.88 L560.28 567.45 L564.01 567.03 L567.73 566.61 L571.46 566.18 L575.18 566.10 L578.91 566.10 L582.64 566.11 L586.36 566.11 L590.09 566.11 L593.81 566.11 L597.54 566.12 L601.27 566.12 L604.99 566.12 L608.72 566.12 L612.44 566.13 L616.17 566.13 L619.90 566.13 L623.62 566.13 L627.35 566.14 L631.08 566.14 L634.80 566.14 L638.53 566.14 L642.25 566.15 L645.98 566.15 L649.71 566.15 L653.43 566.15 L657.16 566.16 L660.88 566.16 L664.61 566.16 L668.34 566.16 L672.06 566.17 L675.79 566.17 L679.52 566.17 L683.24 566.17 L686.97 566.18 L690.69 566.18 L694.42 566.18 L698.15 566.18 L701.87 566.19 L705.60 566.19 L709.32 566.19 L713.05 566.19 L716.78 566.19 L720.50 566.20 L724.23 566.20 L727.95 566.20 L731.68 566.20 L735.41 566.21 L739.13 566.21 L742.86 566.21 L746.59 566.21 L750.31 566.22 L754.04 566.22 L757.76 566.22 L761.49 566.22 L765.22 566.23 L768.94 566.23 L772.67 566.23 L776.39 566.23 L780.12 566.24 L783.85 566.24 L787.57 566.24 L791.30 566.24 L795.03 566.25 L798.75 566.25 L802.48 566.25 L806.20 566.25 L809.93 566.26 L813.66 566.26 L817.38 566.26 L821.11 566.26 L824.83 566.27 L828.56 566.27 L832.29 566.27 L836.01 566.27 L839.74 566.28 L843.46 566.28 L847.19 566.28 L850.92 566.28 L854.64 566.29 L858.37 566.29 L862.10 566.29 L865.82 566.29 L869.55 566.30 L873.27 566.30 L877.00 566.30" fill="none" stroke="#0b4a88" stroke-width="2.4" stroke-linecap="round" stroke-linejoin="round" />
<path d="M51.30 631.00 L55.45 630.53 L59.60 630.05 L63.75 629.58 L67.90 629.11 L72.05 628.64 L76.20 628.17 L80.34 627.70 L84.49 627.23 L88.64 626.77 L92.79 626.30 L96.94 625.83 L101.09 625.37 L105.24 624.90 L109.39 624.44 L113.54 623.98 L117.69 623.51 L121.84 623.05 L125.99 622.59 L130.14 622.13 L134.28 621.67 L138.43 621.21 L142.58 620.75 L146.73 620.29 L150.88 619.83 L155.03 619.38 L159.18 618.92 L163.33 618.47 L167.48 618.01 L171.63 617.56 L175.78 617.10 L179.93 616.65 L184.08 616.20 L188.23 615.75 L192.37 615.30 L196.52 614.85 L200.67 614.40 L204.82 613.95 L208.97 613.50 L213.12 613.05 L217.27 612.60 L221.42 612.16 L225.57 611.71 L229.72 611.27 L233.87 610.82 L238.02 610.38 L242.17 609.94 L246.31 609.49 L250.46 609.05 L254.61 608.61 L258.76 608.17 L262.91 607.73 L267.06 607.29 L271.21 606.85 L275.36 606.42 L279.51 605.98 L283.66 605.55 L287.81 605.11 L291.96 604.68 L296.11 604.25 L300.25 603.82 L304.40 603.39 L308.55 602.96 L312.70 602.53 L316.85 602.10 L321.00 601.67 L325.15 601.24 L329.30 600.82 L333.45 600.39 L337.60 599.96 L341.75 599.54 L345.90 599.11 L350.05 598.69 L354.19 598.26 L358.34 597.84 L362.49 597.42 L366.64 596.99 L370.79 596.57 L374.94 596.15 L379.09 595.73 L383.24 595.30 L387.39 594.88 L391.54 594.46 L395.69 594.04 L399.84 593.62 L403.99 593.20 L408.14 592.78 L412.28 592.36 L416.43 591.94 L420.58 591.53 L424.73 591.11 L428.88 590.70 L433.03 590.29 L437.18 589.87 L441.33 589.46 L445.48 589.05 L449.63 588.64 L453.78 588.23 L457.93 587.82 L462.08 587.41 L466.22 587.00 L470.37 586.59 L474.52 586.18 L478.67 585.77 L482.82 585.36 L486.97 584.95 L491.12 584.54 L495.27 584.13 L499.42 583.71 L503.57 583.30 L507.72 582.88 L511.87 582.47 L516.02 582.05 L520.16 581.63 L524.31 581.21 L528.46 580.78 L532.61 580.36 L536.76 579.93 L540.91 579.51 L545.06 579.07 L549.21 578.64 L553.36 578.20 L557.51 577.76 L561.66 577.32 L565.81 576.88 L569.96 576.44 L574.11 576.30 L578.25 576.30 L582.40 576.30 L586.55 576.30 L590.70 576.30 L594.85 576.30 L599.00 576.30 L603.15 576.30 L607.30 576.30 L611.45 576.30 L615.60 576.30 L619.75 576.30 L623.90 576.30 L628.05 576.30 L632.19 576.30 L636.34 576.30 L640.49 576.30 L644.64 576.30 L648.79 576.30 L652.94 576.30 L657.09 576.30 L661.24 576.30 L665.39 576.30 L669.54 576.30 L673.69 576.30 L677.84 576.30 L681.99 576.30 L686.13 576.30 L690.28 576.30 L694.43 576.30 L698.58 576.30 L702.73 576.30 L706.88 576.30 L711.03 576.30 L715.18 576.30 L719.33 576.30 L723.48 576.30 L727.63 576.30 L731.78 576.30 L735.93 576.30 L740.07 576.30 L744.22 576.30 L748.37 576.30 L752.52 576.30 L756.67 576.30 L760.82 576.30 L764.97 576.30 L769.12 576.30 L773.27 576.30 L777.42 576.30 L781.57 576.30 L785.72 576.30 L789.87 576.30 L794.02 576.30 L798.16 576.30 L802.31 576.30 L806.46 576.30 L810.61 576.30 L814.76 576.30 L818.91 576.30 L823.06 576.30 L827.21 576.30 L831.36 576.30 L835.51 576.30 L839.66 576.30 L843.81 576.30 L847.96 576.30 L852.10 576.30 L856.25 576.30 L860.40 576.30 L864.55 576.30 L868.70 576.30 L872.85 576.30 L877.00 576.30" fill="none" stroke="#0b4a88" stroke-width="1" stroke-linecap="butt" stroke-linejoin="round" />
<path d="M51.30 641.31 L59.93 640.54 L68.57 639.77 L77.20 639.00 L85.83 638.22 L94.47 637.44 L103.10 636.65 L111.73 635.86 L120.37 635.06 L129.00 634.27" fill="none" stroke="#0b4a88" stroke-width="1" stroke-linecap="butt" stroke-linejoin="round" />
<path d="M129.00 634.27 L132.71 633.92 L136.41 633.58 L140.12 633.23 L143.82 632.89 L147.53 632.54 L151.24 632.20 L154.94 631.85 L158.65 631.50 L162.35 631.15 L166.06 630.81 L169.77 630.46 L173.47 630.11 L177.18 629.76 L180.88 629.41 L184.59 629.06 L188.30 628.71 L192.00 628.36 L195.71 628.00 L199.41 627.65 L203.12 627.30 L206.83 626.95 L210.53 626.59 L214.24 626.24 L217.94 625.89 L221.65 625.53 L225.36 625.18 L229.06 624.83 L232.77 624.47 L236.47 624.12 L240.18 623.76 L243.89 623.41 L247.59 623.05 L251.30 622.70 L255.01 622.34 L258.71 621.99 L262.42 621.63 L266.12 621.28 L269.83 620.92 L273.54 620.57 L277.24 620.21 L280.95 619.85 L284.65 619.50 L288.36 619.14 L292.07 618.79 L295.77 618.43 L299.48 618.07 L303.18 617.72 L306.89 617.36 L310.60 617.01 L314.30 616.65 L318.01 616.30 L321.71 615.94 L325.42 615.59 L329.13 615.23 L332.83 614.88 L336.54 614.52 L340.24 614.17 L343.95 613.82 L347.66 613.46 L351.36 613.11 L355.07 612.76 L358.77 612.40 L362.48 612.05 L366.19 611.70 L369.89 611.35 L373.60 610.99 L377.30 610.64 L381.01 610.29 L384.72 609.94 L388.42 609.59 L392.13 609.24 L395.83 608.89 L399.54 608.54 L403.25 608.20 L406.95 607.85 L410.66 607.50 L414.36 607.15 L418.07 606.81 L421.78 606.46 L425.48 606.12 L429.19 605.77 L432.89 605.43 L436.60 605.08 L440.31 604.74 L444.01 604.40 L447.72 604.06 L451.42 603.72 L455.13 603.37 L458.84 603.03 L462.54 602.70 L466.25 602.36 L469.95 602.02 L473.66 601.68 L477.37 601.35 L481.07 601.01 L484.78 600.68 L488.48 600.34 L492.19 600.01 L495.90 599.68 L499.60 599.35 L503.31 599.02 L507.02 598.69 L510.72 598.36 L514.43 598.03 L518.13 597.70 L521.84 597.38 L525.55 597.05 L529.25 596.73 L532.96 596.40 L536.66 596.08 L540.37 595.76 L544.08 595.44 L547.78 595.12 L551.49 594.80 L555.19 594.49 L558.90 594.17 L562.61 593.85 L566.31 593.54 L570.02 593.23 L573.72 592.92 L577.43 592.61 L581.14 592.30 L584.84 591.99 L588.55 591.68 L592.25 591.37 L595.96 591.07 L599.67 590.77 L603.37 590.46 L607.08 590.16 L610.78 589.86 L614.49 589.57 L618.20 589.27 L621.90 588.97 L625.61 588.68 L629.31 588.39 L633.02 588.09 L636.73 587.80 L640.43 587.51 L644.14 587.23 L647.84 586.94 L651.55 586.66 L655.26 586.37 L658.96 586.09 L662.67 585.81 L666.37 585.53 L670.08 585.26 L673.79 584.98 L677.49 584.71 L681.20 584.43 L684.90 584.16 L688.61 583.89 L692.32 583.62 L696.02 583.36 L699.73 583.09 L703.43 582.83 L707.14 582.57 L710.85 582.31 L714.55 582.05 L718.26 581.79 L721.96 581.54 L725.67 581.29 L729.38 581.03 L733.08 580.78 L736.79 580.54 L740.49 580.29 L744.20 580.05 L747.91 579.80 L751.61 579.56 L755.32 579.33 L759.03 579.09 L762.73 578.85 L766.44 578.62 L770.14 578.39 L773.85 578.16 L777.56 577.93 L781.26 577.71 L784.97 577.48 L788.67 577.26 L792.38 577.04 L796.09 576.82 L799.79 576.61 L803.50 576.40 L807.20 576.18 L810.91 575.97 L814.62 575.77 L818.32 575.56 L822.03 575.36 L825.73 575.16 L829.44 574.96 L833.15 574.76 L836.85 574.57 L840.56 574.37 L844.26 574.18 L847.97 574.00 L851.68 573.81 L855.38 573.63 L859.09 573.45 L862.79 573.27 L866.50 573.09" fill="none" stroke="#0b4a88" stroke-width="3.9" stroke-linecap="round" stroke-linejoin="round" />
<path d="M51.30 646.11 L59.82 645.32 L68.34 644.53 L76.87 643.74 L85.39 642.95 L93.91 642.17 L102.43 641.38 L110.96 640.59 L119.48 639.80 L128.00 639.01" fill="none" stroke="#0b4a88" stroke-width="1" stroke-linecap="butt" stroke-linejoin="round" />
<path d="M128.00 639.01 L131.71 638.67 L135.42 638.33 L139.13 637.99 L142.84 637.64 L146.56 637.30 L150.27 636.96 L153.98 636.62 L157.69 636.28 L161.40 635.93 L165.11 635.59 L168.82 635.25 L172.53 634.91 L176.24 634.57 L179.95 634.23 L183.67 633.89 L187.38 633.55 L191.09 633.21 L194.80 632.87 L198.51 632.53 L202.22 632.19 L205.93 631.85 L209.64 631.51 L213.35 631.17 L217.07 630.83 L220.78 630.50 L224.49 630.16 L228.20 629.82 L231.91 629.48 L235.62 629.15 L239.33 628.81 L243.04 628.47 L246.75 628.14 L250.46 627.80 L254.18 627.47 L257.89 627.13 L261.60 626.80 L265.31 626.46 L269.02 626.13 L272.73 625.80 L276.44 625.46 L280.15 625.13 L283.86 624.80 L287.58 624.47 L291.29 624.13 L295.00 623.80 L298.71 623.47 L302.42 623.14 L306.13 622.81 L309.84 622.48 L313.55 622.15 L317.26 621.82 L320.97 621.50 L324.69 621.17 L328.40 620.84 L332.11 620.52 L335.82 620.19 L339.53 619.86 L343.24 619.54 L346.95 619.21 L350.66 618.89 L354.37 618.57 L358.09 618.24 L361.80 617.92 L365.51 617.60 L369.22 617.28 L372.93 616.95 L376.64 616.63 L380.35 616.31 L384.06 616.00 L387.77 615.68 L391.48 615.36 L395.20 615.04 L398.91 614.72 L402.62 614.41 L406.33 614.09 L410.04 613.78 L413.75 613.46 L417.46 613.15 L421.17 612.84 L424.88 612.52 L428.60 612.21 L432.31 611.90 L436.02 611.59 L439.73 611.28 L443.44 610.97 L447.15 610.66 L450.86 610.35 L454.57 610.05 L458.28 609.74 L461.99 609.43 L465.71 609.13 L469.42 608.83 L473.13 608.52 L476.84 608.22 L480.55 607.92 L484.26 607.62 L487.97 607.32 L491.68 607.02 L495.39 606.72 L499.11 606.42 L502.82 606.12 L506.53 605.82 L510.24 605.53 L513.95 605.23 L517.66 604.94 L521.37 604.65 L525.08 604.35 L528.79 604.06 L532.51 603.77 L536.22 603.48 L539.93 603.19 L543.64 602.90 L547.35 602.62 L551.06 602.33 L554.77 602.04 L558.48 601.76 L562.19 601.48 L565.90 601.19 L569.62 600.91 L573.33 600.63 L577.04 600.35 L580.75 600.07 L584.46 599.79 L588.17 599.52 L591.88 599.24 L595.59 598.96 L599.30 598.69 L603.02 598.42 L606.73 598.14 L610.44 597.87 L614.15 597.60 L617.86 597.33 L621.57 597.06 L625.28 596.80 L628.99 596.53 L632.70 596.26 L636.41 596.00 L640.13 595.74 L643.84 595.48 L647.55 595.21 L651.26 594.95 L654.97 594.69 L658.68 594.44 L662.39 594.18 L666.10 593.92 L669.81 593.67 L673.53 593.42 L677.24 593.16 L680.95 592.91 L684.66 592.66 L688.37 592.41 L692.08 592.17 L695.79 591.92 L699.50 591.67 L703.21 591.43 L706.92 591.18 L710.64 590.94 L714.35 590.70 L718.06 590.46 L721.77 590.22 L725.48 589.99 L729.19 589.75 L732.90 589.52 L736.61 589.28 L740.32 589.05 L744.04 588.82 L747.75 588.59 L751.46 588.36 L755.17 588.13 L758.88 587.91 L762.59 587.68 L766.30 587.46 L770.01 587.23 L773.72 587.01 L777.43 586.79 L781.15 586.57 L784.86 586.36 L788.57 586.14 L792.28 585.93 L795.99 585.71 L799.70 585.50 L803.41 585.29 L807.12 585.08 L810.83 584.87 L814.55 584.67 L818.26 584.46 L821.97 584.26 L825.68 584.06 L829.39 583.86 L833.10 583.66 L836.81 583.46 L840.52 583.26 L844.23 583.07 L847.94 582.87 L851.66 582.68 L855.37 582.49 L859.08 582.30 L862.79 582.11 L866.50 581.92" fill="none" stroke="#0b4a88" stroke-width="2.4" stroke-linecap="round" stroke-linejoin="round" />
<path d="M51.30 690.60 L75.00 690.20" fill="none" stroke="#0b4a88" stroke-width="1" stroke-linecap="butt" stroke-linejoin="round" />
<path d="M75.00 689.40 L190.00 688.60 L304.50 687.30" fill="none" stroke="#0b4a88" stroke-width="2.4" stroke-linecap="round" stroke-linejoin="round" />
<path d="M75.00 690.30 L190.00 689.40 L304.50 688.00" fill="none" stroke="#000" stroke-width="2.5" stroke-linecap="round" stroke-linejoin="round" />
<path d="M51.30 664.60 L60.66 664.05 L70.01 663.51 L79.37 663.00 L88.72 662.51 L98.08 662.05 L107.43 661.63 L116.79 661.26 L126.14 660.94 L135.50 660.67" fill="none" stroke="#000" stroke-width="0.9" stroke-linecap="butt" stroke-linejoin="round" />
<path d="M135.50 660.67 L139.22 660.58 L142.95 660.48 L146.67 660.38 L150.39 660.29 L154.12 660.20 L157.84 660.11 L161.57 660.01 L165.29 659.93 L169.01 659.84 L172.74 659.75 L176.46 659.67 L180.18 659.59 L183.91 659.51 L187.63 659.43 L191.35 659.36 L195.08 659.29 L198.80 659.22 L202.53 659.16 L206.25 659.10 L209.97 659.04 L213.70 658.99 L217.42 658.94 L221.14 658.89 L224.87 658.85 L228.59 658.82 L232.31 658.78 L236.04 658.76 L239.76 658.73 L243.48 658.72 L247.21 658.71 L250.93 658.70 L254.66 658.69 L258.38 658.69 L262.10 658.68 L265.83 658.68 L269.55 658.68 L273.27 658.67 L277.00 658.67 L280.72 658.66 L284.44 658.66 L288.17 658.66 L291.89 658.65 L295.62 658.65 L299.34 658.64 L303.06 658.64 L306.79 658.64 L310.51 658.64 L314.23 658.63 L317.96 658.63 L321.68 658.63 L325.40 658.62 L329.13 658.62 L332.85 658.62 L336.58 658.62 L340.30 658.62 L344.02 658.61 L347.75 658.61 L351.47 658.61 L355.19 658.61 L358.92 658.61 L362.64 658.61 L366.36 658.61 L370.09 658.60 L373.81 658.60 L377.54 658.60 L381.26 658.60 L384.98 658.60 L388.71 658.60 L392.43 658.60 L396.15 658.60 L399.88 658.60 L403.60 658.60 L407.32 658.60 L411.05 658.60 L414.77 658.60 L418.49 658.60 L422.22 658.60 L425.94 658.60 L429.67 658.60 L433.39 658.60 L437.11 658.60 L440.84 658.60 L444.56 658.60 L448.28 658.60 L452.01 658.60 L455.73 658.60 L459.45 658.60 L463.18 658.60 L466.90 658.60 L470.63 658.60 L474.35 658.60 L478.07 658.60 L481.80 658.60 L485.52 658.59 L489.24 658.58 L492.97 658.56 L496.69 658.53 L500.41 658.50 L504.14 658.46 L507.86 658.42 L511.59 658.38 L515.31 658.33 L519.03 658.28 L522.76 658.23 L526.48 658.18 L530.20 658.12 L533.93 658.07 L537.65 658.01 L541.37 657.95 L545.10 657.90 L548.82 657.85 L552.55 657.79 L556.27 657.75 L559.99 657.70 L563.72 657.66 L567.44 657.61 L571.16 657.57 L574.89 657.53 L578.61 657.49 L582.33 657.45 L586.06 657.40 L589.78 657.36 L593.51 657.32 L597.23 657.27 L600.95 657.22 L604.68 657.17 L608.40 657.12 L612.12 657.06 L615.85 657.00 L619.57 656.94 L623.29 656.88 L627.02 656.81 L630.74 656.75 L634.46 656.68 L638.19 656.60 L641.91 656.53 L645.64 656.45 L649.36 656.36 L653.08 656.27 L656.81 656.17 L660.53 656.07 L664.25 655.96 L667.98 655.84 L671.70 655.72 L675.42 655.58 L679.15 655.43 L682.87 655.24 L686.60 655.03 L690.32 654.79 L694.04 654.53 L697.77 654.24 L701.49 653.94 L705.21 653.62 L708.94 653.28 L712.66 652.93 L716.38 652.57 L720.11 652.21 L723.83 651.83 L727.56 651.46 L731.28 651.08 L735.00 650.70 L738.73 650.33 L742.45 649.95 L746.17 649.56 L749.90 649.15 L753.62 648.73 L757.34 648.30 L761.07 647.85 L764.79 647.39 L768.52 646.93 L772.24 646.45 L775.96 645.97 L779.69 645.49 L783.41 645.00 L787.13 644.50 L790.86 644.01 L794.58 643.52 L798.30 643.02 L802.03 642.53 L805.75 642.04 L809.47 641.54 L813.20 641.04 L816.92 640.54 L820.65 640.03 L824.37 639.52 L828.09 639.00 L831.82 638.49 L835.54 637.96 L839.26 637.44 L842.99 636.91 L846.71 636.37 L850.43 635.84 L854.16 635.30 L857.88 634.75 L861.61 634.21 L865.33 633.65 L869.05 633.10 L872.78 632.54 L876.50 631.98" fill="none" stroke="#000" stroke-width="2.1" stroke-linecap="round" stroke-linejoin="round" />
<path d="M51.30 669.50 L59.93 669.11 L68.57 668.72 L77.20 668.35 L85.83 667.99 L94.47 667.65 L103.10 667.34 L111.73 667.04 L120.37 666.77 L129.00 666.54" fill="none" stroke="#000" stroke-width="0.9" stroke-linecap="butt" stroke-linejoin="round" />
<path d="M129.00 666.54 L132.70 666.44 L136.41 666.34 L140.11 666.24 L143.81 666.15 L147.52 666.05 L151.22 665.96 L154.92 665.87 L158.63 665.77 L162.33 665.68 L166.04 665.59 L169.74 665.51 L173.44 665.42 L177.15 665.34 L180.85 665.25 L184.55 665.17 L188.26 665.10 L191.96 665.02 L195.66 664.95 L199.37 664.87 L203.07 664.81 L206.77 664.74 L210.48 664.68 L214.18 664.62 L217.88 664.56 L221.59 664.50 L225.29 664.45 L228.99 664.40 L232.70 664.36 L236.40 664.32 L240.11 664.28 L243.81 664.25 L247.51 664.22 L251.22 664.19 L254.92 664.17 L258.62 664.15 L262.33 664.12 L266.03 664.10 L269.73 664.08 L273.44 664.07 L277.14 664.05 L280.84 664.03 L284.55 664.02 L288.25 664.00 L291.95 663.99 L295.66 663.98 L299.36 663.96 L303.07 663.95 L306.77 663.94 L310.47 663.93 L314.18 663.92 L317.88 663.91 L321.58 663.89 L325.29 663.88 L328.99 663.87 L332.69 663.86 L336.40 663.85 L340.10 663.84 L343.80 663.83 L347.51 663.82 L351.21 663.81 L354.91 663.80 L358.62 663.79 L362.32 663.77 L366.03 663.76 L369.73 663.75 L373.43 663.73 L377.14 663.72 L380.84 663.70 L384.54 663.68 L388.25 663.66 L391.95 663.65 L395.65 663.63 L399.36 663.60 L403.06 663.58 L406.76 663.56 L410.47 663.53 L414.17 663.51 L417.87 663.48 L421.58 663.45 L425.28 663.42 L428.98 663.39 L432.69 663.35 L436.39 663.32 L440.10 663.28 L443.80 663.25 L447.50 663.21 L451.21 663.17 L454.91 663.12 L458.61 663.08 L462.32 663.04 L466.02 662.99 L469.72 662.94 L473.43 662.89 L477.13 662.84 L480.83 662.79 L484.54 662.73 L488.24 662.67 L491.94 662.60 L495.65 662.52 L499.35 662.45 L503.06 662.36 L506.76 662.28 L510.46 662.19 L514.17 662.09 L517.87 662.00 L521.57 661.90 L525.28 661.80 L528.98 661.69 L532.68 661.59 L536.39 661.48 L540.09 661.37 L543.79 661.26 L547.50 661.16 L551.20 661.04 L554.90 660.92 L558.61 660.80 L562.31 660.67 L566.02 660.54 L569.72 660.41 L573.42 660.27 L577.13 660.13 L580.83 659.99 L584.53 659.85 L588.24 659.70 L591.94 659.55 L595.64 659.41 L599.35 659.26 L603.05 659.11 L606.75 658.96 L610.46 658.82 L614.16 658.67 L617.86 658.53 L621.57 658.39 L625.27 658.25 L628.97 658.12 L632.68 657.99 L636.38 657.85 L640.09 657.72 L643.79 657.58 L647.49 657.45 L651.20 657.30 L654.90 657.15 L658.60 657.00 L662.31 656.83 L666.01 656.66 L669.71 656.48 L673.42 656.29 L677.12 656.08 L680.82 655.85 L684.53 655.60 L688.23 655.33 L691.93 655.04 L695.64 654.73 L699.34 654.41 L703.05 654.08 L706.75 653.74 L710.45 653.39 L714.16 653.03 L717.86 652.67 L721.56 652.30 L725.27 651.94 L728.97 651.57 L732.67 651.21 L736.38 650.85 L740.08 650.49 L743.78 650.14 L747.49 649.79 L751.19 649.42 L754.89 649.04 L758.60 648.63 L762.30 648.20 L766.01 647.75 L769.71 647.28 L773.41 646.80 L777.12 646.30 L780.82 645.79 L784.52 645.27 L788.23 644.75 L791.93 644.23 L795.63 643.71 L799.34 643.19 L803.04 642.68 L806.74 642.16 L810.45 641.64 L814.15 641.11 L817.85 640.59 L821.56 640.06 L825.26 639.52 L828.96 638.99 L832.67 638.45 L836.37 637.91 L840.08 637.36 L843.78 636.81 L847.48 636.26 L851.19 635.71 L854.89 635.15 L858.59 634.59 L862.30 634.02 L866.00 633.45" fill="none" stroke="#000" stroke-width="3.8" stroke-linecap="round" stroke-linejoin="round" />
<circle cx="675" cy="584.7" r="6.2" fill="#ff0000"/>
<circle cx="675" cy="593.2" r="6.2" fill="#ff0000"/>
<circle cx="675" cy="656.2" r="6.2" fill="#ff0000"/>
<path d="M51.3 517V693.4" stroke="#000" stroke-width="1.8"/>
<path d="M959.2 517V693.4" stroke="#000" stroke-width="2.3"/>
<path d="M44 692.45H967" stroke="#000" stroke-width="1.4"/>
<path d="M44 663.68H51M959 663.68H966.5M44 634.56H51M959 634.56H966.5M44 605.44H51M959 605.44H966.5M44 576.32H51M959 576.32H966.5M44 547.20H51M959 547.20H966.5" stroke="#000" stroke-width="1.7" fill="none"/>
<text x="29.5" y="697.0" font-family="Liberation Sans, Arial, Helvetica, sans-serif" font-size="16.67" fill="#000">0</text>
<text x="970.9" y="697.0" font-family="Liberation Sans, Arial, Helvetica, sans-serif" font-size="16.67" fill="#000">0</text>
<text x="29.7" y="667.9" font-family="Liberation Sans, Arial, Helvetica, sans-serif" font-size="16.67" fill="#000">1</text>
<text x="970.9" y="667.9" font-family="Liberation Sans, Arial, Helvetica, sans-serif" font-size="16.67" fill="#000">2</text>
<text x="29.8" y="638.8" font-family="Liberation Sans, Arial, Helvetica, sans-serif" font-size="16.67" fill="#000">2</text>
<text x="970.9" y="638.8" font-family="Liberation Sans, Arial, Helvetica, sans-serif" font-size="16.67" fill="#000">4</text>
<text x="29.6" y="609.6" font-family="Liberation Sans, Arial, Helvetica, sans-serif" font-size="16.67" fill="#000">3</text>
<text x="970.9" y="609.6" font-family="Liberation Sans, Arial, Helvetica, sans-serif" font-size="16.67" fill="#000">6</text>
<text x="29.4" y="580.5" font-family="Liberation Sans, Arial, Helvetica, sans-serif" font-size="16.67" fill="#000">4</text>
<text x="970.9" y="580.5" font-family="Liberation Sans, Arial, Helvetica, sans-serif" font-size="16.67" fill="#000">8</text>
<text x="19.1" y="532.7" font-family="Liberation Sans, Arial, Helvetica, sans-serif" font-size="16.67" fill="#000">P</text>
<text x="6.8 11.9 21.2 37.7" y="551.5" font-family="Liberation Sans, Arial, Helvetica, sans-serif" font-size="16.67" fill="#000">[kW]</text>
<text x="967.0 979.4 990.8 1002.2" y="532.7" font-family="Liberation Sans, Arial, Helvetica, sans-serif" font-size="16.67" fill="#000">NPSH</text>
<text x="977.9 983.1 997.7" y="551.5" font-family="Liberation Sans, Arial, Helvetica, sans-serif" font-size="16.67" fill="#000">[m]</text>
<text x="668.6 679.8 688.9 694.0 699.9 713.8 722.8 727.7 736.7 742.6 752.5 757.5 763.5 772.5 781.5 786.5 795.7 804.9 814.1 823.3 832.5 838.6 843.7 852.9 859.0" y="559.5" font-family="Liberation Sans, Arial, Helvetica, sans-serif" font-size="16.67" fill="#15599c">P1 (motor+freq.converter)</text>
<text x="850.5 862.3" y="592.8" font-family="Liberation Sans, Arial, Helvetica, sans-serif" font-size="16.67" fill="#15599c">P2</text>
<text x="53.6 65.1 74.5 79.8 85.7 99.7 108.7 113.6 122.6 128.6 138.5 143.6 149.7 158.8 167.8 172.9 181.9 191.0 200.0 209.0 218.0 224.1 229.1 238.1 244.1 250.1 255.2 265.0 270.0 279.0 284.0 293.0 302.0 311.1 316.1 325.0" y="718.7" font-family="Liberation Sans, Arial, Helvetica, sans-serif" font-size="16.67" fill="#000">P1 (motor+freq.converter) = 3.695 kW</text>
<text x="53.6 65.0 74.2 79.4 89.2 94.2 103.1 108.0 116.9 125.8 134.7 139.7 148.6" y="739.8" font-family="Liberation Sans, Arial, Helvetica, sans-serif" font-size="16.67" fill="#000">P2 = 3.411 kW</text>
<text x="53.6 65.7 76.7 87.8 99.8 104.9 114.6 119.5 128.7 133.8 143.0 152.2 157.3" y="761.3" font-family="Liberation Sans, Arial, Helvetica, sans-serif" font-size="16.67" fill="#000">NPSH = 2.49 m</text>
</svg>
</body></html>
